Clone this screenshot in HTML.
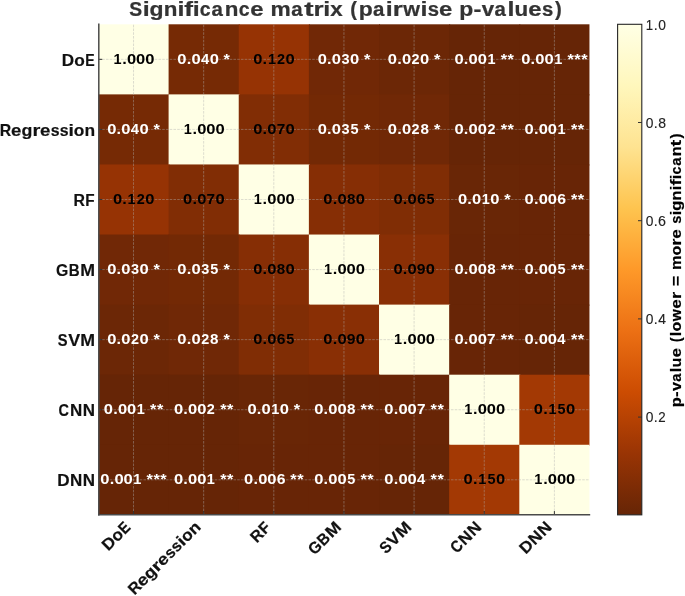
<!DOCTYPE html><html><head><meta charset="utf-8"><style>html,body{margin:0;padding:0;background:#fff;}svg{display:block;}text{font-family:"Liberation Sans",sans-serif;}</style></head><body><svg style="will-change:transform" width="685" height="596" viewBox="0 0 685 596">
<rect width="100%" height="100%" fill="#fff"/>
<rect x="98.450" y="24.300" width="71.143" height="71.079" fill="#ffffe5"/>
<rect x="168.593" y="24.300" width="71.143" height="71.079" fill="#762a05"/>
<rect x="238.736" y="24.300" width="71.143" height="71.079" fill="#963304"/>
<rect x="308.879" y="24.300" width="71.143" height="71.079" fill="#712806"/>
<rect x="379.021" y="24.300" width="71.143" height="71.079" fill="#6c2706"/>
<rect x="449.164" y="24.300" width="71.143" height="71.079" fill="#662506"/>
<rect x="519.307" y="24.300" width="70.143" height="71.079" fill="#662506"/>
<rect x="98.450" y="94.379" width="71.143" height="71.079" fill="#762a05"/>
<rect x="168.593" y="94.379" width="71.143" height="71.079" fill="#ffffe5"/>
<rect x="238.736" y="94.379" width="71.143" height="71.079" fill="#812d05"/>
<rect x="308.879" y="94.379" width="71.143" height="71.079" fill="#732905"/>
<rect x="379.021" y="94.379" width="71.143" height="71.079" fill="#702806"/>
<rect x="449.164" y="94.379" width="71.143" height="71.079" fill="#662506"/>
<rect x="519.307" y="94.379" width="70.143" height="71.079" fill="#662506"/>
<rect x="98.450" y="164.457" width="71.143" height="71.079" fill="#963304"/>
<rect x="168.593" y="164.457" width="71.143" height="71.079" fill="#812d05"/>
<rect x="238.736" y="164.457" width="71.143" height="71.079" fill="#ffffe5"/>
<rect x="308.879" y="164.457" width="71.143" height="71.079" fill="#862e05"/>
<rect x="379.021" y="164.457" width="71.143" height="71.079" fill="#802d05"/>
<rect x="449.164" y="164.457" width="71.143" height="71.079" fill="#692606"/>
<rect x="519.307" y="164.457" width="70.143" height="71.079" fill="#682506"/>
<rect x="98.450" y="234.536" width="71.143" height="71.079" fill="#712806"/>
<rect x="168.593" y="234.536" width="71.143" height="71.079" fill="#732905"/>
<rect x="238.736" y="234.536" width="71.143" height="71.079" fill="#862e05"/>
<rect x="308.879" y="234.536" width="71.143" height="71.079" fill="#ffffe5"/>
<rect x="379.021" y="234.536" width="71.143" height="71.079" fill="#892f05"/>
<rect x="449.164" y="234.536" width="71.143" height="71.079" fill="#682506"/>
<rect x="519.307" y="234.536" width="70.143" height="71.079" fill="#682506"/>
<rect x="98.450" y="304.614" width="71.143" height="71.079" fill="#6c2706"/>
<rect x="168.593" y="304.614" width="71.143" height="71.079" fill="#702806"/>
<rect x="238.736" y="304.614" width="71.143" height="71.079" fill="#802d05"/>
<rect x="308.879" y="304.614" width="71.143" height="71.079" fill="#892f05"/>
<rect x="379.021" y="304.614" width="71.143" height="71.079" fill="#ffffe5"/>
<rect x="449.164" y="304.614" width="71.143" height="71.079" fill="#682506"/>
<rect x="519.307" y="304.614" width="70.143" height="71.079" fill="#662506"/>
<rect x="98.450" y="374.693" width="71.143" height="71.079" fill="#662506"/>
<rect x="168.593" y="374.693" width="71.143" height="71.079" fill="#662506"/>
<rect x="238.736" y="374.693" width="71.143" height="71.079" fill="#692606"/>
<rect x="308.879" y="374.693" width="71.143" height="71.079" fill="#682506"/>
<rect x="379.021" y="374.693" width="71.143" height="71.079" fill="#682506"/>
<rect x="449.164" y="374.693" width="71.143" height="71.079" fill="#ffffe5"/>
<rect x="519.307" y="374.693" width="70.143" height="71.079" fill="#a33904"/>
<rect x="98.450" y="444.771" width="71.143" height="70.079" fill="#662506"/>
<rect x="168.593" y="444.771" width="71.143" height="70.079" fill="#662506"/>
<rect x="238.736" y="444.771" width="71.143" height="70.079" fill="#682506"/>
<rect x="308.879" y="444.771" width="71.143" height="70.079" fill="#682506"/>
<rect x="379.021" y="444.771" width="71.143" height="70.079" fill="#662506"/>
<rect x="449.164" y="444.771" width="71.143" height="70.079" fill="#a33904"/>
<rect x="519.307" y="444.771" width="70.143" height="70.079" fill="#ffffe5"/>
<line x1="133.521" y1="514.850" x2="133.521" y2="24.300" stroke="#b0b0b0" stroke-opacity="0.6" stroke-width="0.72" stroke-dasharray="2.6 1.15"/>
<line x1="203.664" y1="514.850" x2="203.664" y2="24.300" stroke="#b0b0b0" stroke-opacity="0.6" stroke-width="0.72" stroke-dasharray="2.6 1.15"/>
<line x1="273.807" y1="514.850" x2="273.807" y2="24.300" stroke="#b0b0b0" stroke-opacity="0.6" stroke-width="0.72" stroke-dasharray="2.6 1.15"/>
<line x1="343.950" y1="514.850" x2="343.950" y2="24.300" stroke="#b0b0b0" stroke-opacity="0.6" stroke-width="0.72" stroke-dasharray="2.6 1.15"/>
<line x1="414.093" y1="514.850" x2="414.093" y2="24.300" stroke="#b0b0b0" stroke-opacity="0.6" stroke-width="0.72" stroke-dasharray="2.6 1.15"/>
<line x1="484.236" y1="514.850" x2="484.236" y2="24.300" stroke="#b0b0b0" stroke-opacity="0.6" stroke-width="0.72" stroke-dasharray="2.6 1.15"/>
<line x1="554.379" y1="514.850" x2="554.379" y2="24.300" stroke="#b0b0b0" stroke-opacity="0.6" stroke-width="0.72" stroke-dasharray="2.6 1.15"/>
<line x1="98.450" y1="59.339" x2="589.450" y2="59.339" stroke="#b0b0b0" stroke-opacity="0.6" stroke-width="0.72" stroke-dasharray="2.6 1.15"/>
<line x1="98.450" y1="129.418" x2="589.450" y2="129.418" stroke="#b0b0b0" stroke-opacity="0.6" stroke-width="0.72" stroke-dasharray="2.6 1.15"/>
<line x1="98.450" y1="199.496" x2="589.450" y2="199.496" stroke="#b0b0b0" stroke-opacity="0.6" stroke-width="0.72" stroke-dasharray="2.6 1.15"/>
<line x1="98.450" y1="269.575" x2="589.450" y2="269.575" stroke="#b0b0b0" stroke-opacity="0.6" stroke-width="0.72" stroke-dasharray="2.6 1.15"/>
<line x1="98.450" y1="339.654" x2="589.450" y2="339.654" stroke="#b0b0b0" stroke-opacity="0.6" stroke-width="0.72" stroke-dasharray="2.6 1.15"/>
<line x1="98.450" y1="409.732" x2="589.450" y2="409.732" stroke="#b0b0b0" stroke-opacity="0.6" stroke-width="0.72" stroke-dasharray="2.6 1.15"/>
<line x1="98.450" y1="479.811" x2="589.450" y2="479.811" stroke="#b0b0b0" stroke-opacity="0.6" stroke-width="0.72" stroke-dasharray="2.6 1.15"/>
<line x1="98.450" y1="59.339" x2="102.250" y2="59.339" stroke="#333" stroke-width="1.0"/>
<line x1="98.450" y1="129.418" x2="102.250" y2="129.418" stroke="#333" stroke-width="1.0"/>
<line x1="98.450" y1="199.496" x2="102.250" y2="199.496" stroke="#333" stroke-width="1.0"/>
<line x1="98.450" y1="269.575" x2="102.250" y2="269.575" stroke="#333" stroke-width="1.0"/>
<line x1="98.450" y1="339.654" x2="102.250" y2="339.654" stroke="#333" stroke-width="1.0"/>
<line x1="98.450" y1="409.732" x2="102.250" y2="409.732" stroke="#333" stroke-width="1.0"/>
<line x1="98.450" y1="479.811" x2="102.250" y2="479.811" stroke="#333" stroke-width="1.0"/>
<line x1="133.521" y1="514.850" x2="133.521" y2="511.050" stroke="#333" stroke-width="1.0"/>
<line x1="203.664" y1="514.850" x2="203.664" y2="511.050" stroke="#333" stroke-width="1.0"/>
<line x1="273.807" y1="514.850" x2="273.807" y2="511.050" stroke="#333" stroke-width="1.0"/>
<line x1="343.950" y1="514.850" x2="343.950" y2="511.050" stroke="#333" stroke-width="1.0"/>
<line x1="414.093" y1="514.850" x2="414.093" y2="511.050" stroke="#333" stroke-width="1.0"/>
<line x1="484.236" y1="514.850" x2="484.236" y2="511.050" stroke="#333" stroke-width="1.0"/>
<line x1="554.379" y1="514.850" x2="554.379" y2="511.050" stroke="#333" stroke-width="1.0"/>
<line x1="98.800" y1="23.550" x2="98.800" y2="515.600" stroke="#4a4a4a" stroke-width="1.5"/>
<line x1="98.050" y1="514.850" x2="590.200" y2="514.850" stroke="#4a4a4a" stroke-width="1.5"/>
<defs><linearGradient id="cbg" x1="0" y1="1" x2="0" y2="0"><stop offset="0.0000" stop-color="#662506"/><stop offset="0.1250" stop-color="#993404"/><stop offset="0.2500" stop-color="#cc4c02"/><stop offset="0.3750" stop-color="#ec7014"/><stop offset="0.5000" stop-color="#fe9929"/><stop offset="0.6250" stop-color="#fec44f"/><stop offset="0.7500" stop-color="#fee391"/><stop offset="0.8750" stop-color="#fff7bc"/><stop offset="1.0000" stop-color="#ffffe5"/></linearGradient></defs>
<rect x="617.600" y="24.300" width="24.200" height="490.550" fill="url(#cbg)"/>
<line x1="641.800" y1="417.094" x2="638.000" y2="417.094" stroke="#333" stroke-width="1.0"/>
<line x1="641.800" y1="318.895" x2="638.000" y2="318.895" stroke="#333" stroke-width="1.0"/>
<line x1="641.800" y1="220.697" x2="638.000" y2="220.697" stroke="#333" stroke-width="1.0"/>
<line x1="641.800" y1="122.498" x2="638.000" y2="122.498" stroke="#333" stroke-width="1.0"/>
<rect x="617.600" y="24.300" width="24.200" height="490.550" fill="none" stroke="#262626" stroke-width="1.1"/>
<g font-family="Liberation Sans" style="font-kerning:none">
<text transform="translate(108.113 551.755) rotate(-45.0)" x="0.260" y="0" font-size="16.214" textLength="12.362" lengthAdjust="spacingAndGlyphs" fill="#111111" font-weight="bold" stroke="#111111" stroke-width="0.21">D</text>
<text transform="translate(108.113 551.755) rotate(-45.0)" x="12.685" y="0" font-size="16.214" textLength="10.547" lengthAdjust="spacingAndGlyphs" fill="#111111" font-weight="bold" stroke="#111111" stroke-width="0.21">o</text>
<text transform="translate(108.113 551.755) rotate(-45.0)" x="23.674" y="0" font-size="16.214" textLength="9.425" lengthAdjust="spacingAndGlyphs" fill="#111111" font-weight="bold" stroke="#111111" stroke-width="0.21">E</text>
<text transform="translate(134.164 595.762) rotate(-45.0)" x="0.343" y="0" font-size="16.044" textLength="11.459" lengthAdjust="spacingAndGlyphs" fill="#111111" font-weight="bold" stroke="#111111" stroke-width="0.21">R</text>
<text transform="translate(134.164 595.762) rotate(-45.0)" x="11.714" y="0" font-size="16.044" textLength="10.343" lengthAdjust="spacingAndGlyphs" fill="#111111" font-weight="bold" stroke="#111111" stroke-width="0.21">e</text>
<text transform="translate(134.164 595.762) rotate(-45.0)" x="22.116" y="0" font-size="16.044" textLength="10.908" lengthAdjust="spacingAndGlyphs" fill="#111111" font-weight="bold" stroke="#111111" stroke-width="0.21">g</text>
<text transform="translate(134.164 595.762) rotate(-45.0)" x="33.070" y="0" font-size="16.044" textLength="7.852" lengthAdjust="spacingAndGlyphs" fill="#111111" font-weight="bold" stroke="#111111" stroke-width="0.21">r</text>
<text transform="translate(134.164 595.762) rotate(-45.0)" x="40.592" y="0" font-size="16.044" textLength="10.343" lengthAdjust="spacingAndGlyphs" fill="#111111" font-weight="bold" stroke="#111111" stroke-width="0.21">e</text>
<text transform="translate(134.164 595.762) rotate(-45.0)" x="51.275" y="0" font-size="16.044" textLength="8.796" lengthAdjust="spacingAndGlyphs" fill="#111111" font-weight="bold" stroke="#111111" stroke-width="0.21">s</text>
<text transform="translate(134.164 595.762) rotate(-45.0)" x="60.383" y="0" font-size="16.044" textLength="8.796" lengthAdjust="spacingAndGlyphs" fill="#111111" font-weight="bold" stroke="#111111" stroke-width="0.21">s</text>
<text transform="translate(134.164 595.762) rotate(-45.0)" x="69.179" y="0" font-size="16.044" textLength="5.416" lengthAdjust="spacingAndGlyphs" fill="#111111" font-weight="bold" stroke="#111111" stroke-width="0.21">i</text>
<text transform="translate(134.164 595.762) rotate(-45.0)" x="74.483" y="0" font-size="16.044" textLength="10.547" lengthAdjust="spacingAndGlyphs" fill="#111111" font-weight="bold" stroke="#111111" stroke-width="0.21">o</text>
<text transform="translate(134.164 595.762) rotate(-45.0)" x="85.149" y="0" font-size="16.044" textLength="10.642" lengthAdjust="spacingAndGlyphs" fill="#111111" font-weight="bold" stroke="#111111" stroke-width="0.21">n</text>
<text transform="translate(256.484 543.670) rotate(-45.0)" x="0.343" y="0" font-size="16.214" textLength="11.459" lengthAdjust="spacingAndGlyphs" fill="#111111" font-weight="bold" stroke="#111111" stroke-width="0.21">R</text>
<text transform="translate(256.484 543.670) rotate(-45.0)" x="12.164" y="0" font-size="16.214" textLength="9.347" lengthAdjust="spacingAndGlyphs" fill="#111111" font-weight="bold" stroke="#111111" stroke-width="0.21">F</text>
<text transform="translate(314.454 555.843) rotate(-45.0)" x="0.114" y="0" font-size="16.265" textLength="12.299" lengthAdjust="spacingAndGlyphs" fill="#111111" font-weight="bold" stroke="#111111" stroke-width="0.21">G</text>
<text transform="translate(314.454 555.843) rotate(-45.0)" x="12.957" y="0" font-size="16.265" textLength="10.874" lengthAdjust="spacingAndGlyphs" fill="#111111" font-weight="bold" stroke="#111111" stroke-width="0.21">B</text>
<text transform="translate(314.454 555.843) rotate(-45.0)" x="24.441" y="0" font-size="16.265" textLength="14.785" lengthAdjust="spacingAndGlyphs" fill="#111111" font-weight="bold" stroke="#111111" stroke-width="0.21">M</text>
<text transform="translate(385.559 554.881) rotate(-45.0)" x="0.675" y="0" font-size="16.265" textLength="9.799" lengthAdjust="spacingAndGlyphs" fill="#111111" font-weight="bold" stroke="#111111" stroke-width="0.21">S</text>
<text transform="translate(385.559 554.881) rotate(-45.0)" x="10.973" y="0" font-size="16.265" textLength="11.938" lengthAdjust="spacingAndGlyphs" fill="#111111" font-weight="bold" stroke="#111111" stroke-width="0.21">V</text>
<text transform="translate(385.559 554.881) rotate(-45.0)" x="23.081" y="0" font-size="16.265" textLength="14.785" lengthAdjust="spacingAndGlyphs" fill="#111111" font-weight="bold" stroke="#111111" stroke-width="0.21">M</text>
<text transform="translate(456.584 553.998) rotate(-45.0)" x="0.167" y="0" font-size="16.265" textLength="10.481" lengthAdjust="spacingAndGlyphs" fill="#111111" font-weight="bold" stroke="#111111" stroke-width="0.21">C</text>
<text transform="translate(456.584 553.998) rotate(-45.0)" x="11.497" y="0" font-size="16.265" textLength="12.280" lengthAdjust="spacingAndGlyphs" fill="#111111" font-weight="bold" stroke="#111111" stroke-width="0.21">N</text>
<text transform="translate(456.584 553.998) rotate(-45.0)" x="24.304" y="0" font-size="16.265" textLength="12.280" lengthAdjust="spacingAndGlyphs" fill="#111111" font-weight="bold" stroke="#111111" stroke-width="0.21">N</text>
<text transform="translate(525.686 555.040) rotate(-45.0)" x="0.260" y="0" font-size="16.214" textLength="12.362" lengthAdjust="spacingAndGlyphs" fill="#111111" font-weight="bold" stroke="#111111" stroke-width="0.21">D</text>
<text transform="translate(525.686 555.040) rotate(-45.0)" x="12.969" y="0" font-size="16.214" textLength="12.280" lengthAdjust="spacingAndGlyphs" fill="#111111" font-weight="bold" stroke="#111111" stroke-width="0.21">N</text>
<text transform="translate(525.686 555.040) rotate(-45.0)" x="25.775" y="0" font-size="16.214" textLength="12.280" lengthAdjust="spacingAndGlyphs" fill="#111111" font-weight="bold" stroke="#111111" stroke-width="0.21">N</text>
<text transform="translate(95.274 66.256)" x="-33.408" y="0" font-size="16.214" textLength="12.362" lengthAdjust="spacingAndGlyphs" fill="#111111" font-weight="bold" stroke="#111111" stroke-width="0.17">D</text>
<text transform="translate(95.274 66.256)" x="-20.982" y="0" font-size="16.214" textLength="10.547" lengthAdjust="spacingAndGlyphs" fill="#111111" font-weight="bold" stroke="#111111" stroke-width="0.17">o</text>
<text transform="translate(95.274 66.256)" x="-9.993" y="0" font-size="16.214" textLength="9.425" lengthAdjust="spacingAndGlyphs" fill="#111111" font-weight="bold" stroke="#111111" stroke-width="0.17">E</text>
<text transform="translate(95.274 136.342)" x="-95.563" y="0" font-size="16.044" textLength="11.459" lengthAdjust="spacingAndGlyphs" fill="#111111" font-weight="bold" stroke="#111111" stroke-width="0.17">R</text>
<text transform="translate(95.274 136.342)" x="-84.193" y="0" font-size="16.044" textLength="10.343" lengthAdjust="spacingAndGlyphs" fill="#111111" font-weight="bold" stroke="#111111" stroke-width="0.17">e</text>
<text transform="translate(95.274 136.342)" x="-73.791" y="0" font-size="16.044" textLength="10.908" lengthAdjust="spacingAndGlyphs" fill="#111111" font-weight="bold" stroke="#111111" stroke-width="0.17">g</text>
<text transform="translate(95.274 136.342)" x="-62.837" y="0" font-size="16.044" textLength="7.852" lengthAdjust="spacingAndGlyphs" fill="#111111" font-weight="bold" stroke="#111111" stroke-width="0.17">r</text>
<text transform="translate(95.274 136.342)" x="-55.315" y="0" font-size="16.044" textLength="10.343" lengthAdjust="spacingAndGlyphs" fill="#111111" font-weight="bold" stroke="#111111" stroke-width="0.17">e</text>
<text transform="translate(95.274 136.342)" x="-44.631" y="0" font-size="16.044" textLength="8.796" lengthAdjust="spacingAndGlyphs" fill="#111111" font-weight="bold" stroke="#111111" stroke-width="0.17">s</text>
<text transform="translate(95.274 136.342)" x="-35.523" y="0" font-size="16.044" textLength="8.796" lengthAdjust="spacingAndGlyphs" fill="#111111" font-weight="bold" stroke="#111111" stroke-width="0.17">s</text>
<text transform="translate(95.274 136.342)" x="-26.728" y="0" font-size="16.044" textLength="5.416" lengthAdjust="spacingAndGlyphs" fill="#111111" font-weight="bold" stroke="#111111" stroke-width="0.17">i</text>
<text transform="translate(95.274 136.342)" x="-21.423" y="0" font-size="16.044" textLength="10.547" lengthAdjust="spacingAndGlyphs" fill="#111111" font-weight="bold" stroke="#111111" stroke-width="0.17">o</text>
<text transform="translate(95.274 136.342)" x="-10.757" y="0" font-size="16.044" textLength="10.642" lengthAdjust="spacingAndGlyphs" fill="#111111" font-weight="bold" stroke="#111111" stroke-width="0.17">n</text>
<text transform="translate(95.274 206.428)" x="-21.892" y="0" font-size="16.214" textLength="11.459" lengthAdjust="spacingAndGlyphs" fill="#111111" font-weight="bold" stroke="#111111" stroke-width="0.17">R</text>
<text transform="translate(95.274 206.428)" x="-10.072" y="0" font-size="16.214" textLength="9.347" lengthAdjust="spacingAndGlyphs" fill="#111111" font-weight="bold" stroke="#111111" stroke-width="0.17">F</text>
<text transform="translate(95.274 275.514)" x="-39.337" y="0" font-size="16.265" textLength="12.299" lengthAdjust="spacingAndGlyphs" fill="#111111" font-weight="bold" stroke="#111111" stroke-width="0.17">G</text>
<text transform="translate(95.274 275.514)" x="-26.493" y="0" font-size="16.265" textLength="10.874" lengthAdjust="spacingAndGlyphs" fill="#111111" font-weight="bold" stroke="#111111" stroke-width="0.17">B</text>
<text transform="translate(95.274 275.514)" x="-15.010" y="0" font-size="16.265" textLength="14.785" lengthAdjust="spacingAndGlyphs" fill="#111111" font-weight="bold" stroke="#111111" stroke-width="0.17">M</text>
<text transform="translate(95.274 345.599)" x="-37.416" y="0" font-size="16.265" textLength="9.799" lengthAdjust="spacingAndGlyphs" fill="#111111" font-weight="bold" stroke="#111111" stroke-width="0.17">S</text>
<text transform="translate(95.274 345.599)" x="-27.118" y="0" font-size="16.265" textLength="11.938" lengthAdjust="spacingAndGlyphs" fill="#111111" font-weight="bold" stroke="#111111" stroke-width="0.17">V</text>
<text transform="translate(95.274 345.599)" x="-15.010" y="0" font-size="16.265" textLength="14.785" lengthAdjust="spacingAndGlyphs" fill="#111111" font-weight="bold" stroke="#111111" stroke-width="0.17">M</text>
<text transform="translate(95.274 415.685)" x="-36.676" y="0" font-size="16.265" textLength="10.481" lengthAdjust="spacingAndGlyphs" fill="#111111" font-weight="bold" stroke="#111111" stroke-width="0.17">C</text>
<text transform="translate(95.274 415.685)" x="-25.346" y="0" font-size="16.265" textLength="12.280" lengthAdjust="spacingAndGlyphs" fill="#111111" font-weight="bold" stroke="#111111" stroke-width="0.17">N</text>
<text transform="translate(95.274 415.685)" x="-12.539" y="0" font-size="16.265" textLength="12.280" lengthAdjust="spacingAndGlyphs" fill="#111111" font-weight="bold" stroke="#111111" stroke-width="0.17">N</text>
<text transform="translate(95.274 485.771)" x="-38.055" y="0" font-size="16.214" textLength="12.362" lengthAdjust="spacingAndGlyphs" fill="#111111" font-weight="bold" stroke="#111111" stroke-width="0.17">D</text>
<text transform="translate(95.274 485.771)" x="-25.346" y="0" font-size="16.214" textLength="12.280" lengthAdjust="spacingAndGlyphs" fill="#111111" font-weight="bold" stroke="#111111" stroke-width="0.17">N</text>
<text transform="translate(95.274 485.771)" x="-12.539" y="0" font-size="16.214" textLength="12.280" lengthAdjust="spacingAndGlyphs" fill="#111111" font-weight="bold" stroke="#111111" stroke-width="0.17">N</text>
<text transform="translate(133.671 63.762)" x="-20.177" y="0" font-size="13.941" textLength="8.060" lengthAdjust="spacingAndGlyphs" fill="#000000" font-weight="bold">1</text>
<text transform="translate(133.671 63.762)" x="-11.388" y="0" font-size="13.941" textLength="4.539" lengthAdjust="spacingAndGlyphs" fill="#000000" font-weight="bold">.</text>
<text transform="translate(133.671 63.762)" x="-6.662" y="0" font-size="13.941" textLength="9.204" lengthAdjust="spacingAndGlyphs" fill="#000000" font-weight="bold">0</text>
<text transform="translate(133.671 63.762)" x="2.464" y="0" font-size="13.941" textLength="9.204" lengthAdjust="spacingAndGlyphs" fill="#000000" font-weight="bold">0</text>
<text transform="translate(133.671 63.762)" x="11.590" y="0" font-size="13.941" textLength="9.204" lengthAdjust="spacingAndGlyphs" fill="#000000" font-weight="bold">0</text>
<text transform="translate(203.814 63.762)" x="-26.483" y="0" font-size="13.941" textLength="9.204" lengthAdjust="spacingAndGlyphs" fill="#ffffff" font-weight="bold">0</text>
<text transform="translate(203.814 63.762)" x="-17.100" y="0" font-size="13.941" textLength="4.539" lengthAdjust="spacingAndGlyphs" fill="#ffffff" font-weight="bold">.</text>
<text transform="translate(203.814 63.762)" x="-12.374" y="0" font-size="13.941" textLength="9.204" lengthAdjust="spacingAndGlyphs" fill="#ffffff" font-weight="bold">0</text>
<text transform="translate(203.814 63.762)" x="-2.856" y="0" font-size="13.941" textLength="8.239" lengthAdjust="spacingAndGlyphs" fill="#ffffff" font-weight="bold">4</text>
<text transform="translate(203.814 63.762)" x="5.878" y="0" font-size="13.941" textLength="9.204" lengthAdjust="spacingAndGlyphs" fill="#ffffff" font-weight="bold">0</text>
<text transform="translate(203.814 63.762)" x="19.812" y="0" font-size="13.941" textLength="6.398" lengthAdjust="spacingAndGlyphs" fill="#ffffff" font-weight="bold">*</text>
<text transform="translate(273.957 63.762)" x="-20.770" y="0" font-size="13.941" textLength="9.204" lengthAdjust="spacingAndGlyphs" fill="#000000" font-weight="bold">0</text>
<text transform="translate(273.957 63.762)" x="-11.388" y="0" font-size="13.941" textLength="4.539" lengthAdjust="spacingAndGlyphs" fill="#000000" font-weight="bold">.</text>
<text transform="translate(273.957 63.762)" x="-6.068" y="0" font-size="13.941" textLength="8.060" lengthAdjust="spacingAndGlyphs" fill="#000000" font-weight="bold">1</text>
<text transform="translate(273.957 63.762)" x="3.028" y="0" font-size="13.941" textLength="8.027" lengthAdjust="spacingAndGlyphs" fill="#000000" font-weight="bold">2</text>
<text transform="translate(273.957 63.762)" x="11.590" y="0" font-size="13.941" textLength="9.204" lengthAdjust="spacingAndGlyphs" fill="#000000" font-weight="bold">0</text>
<text transform="translate(344.100 63.762)" x="-26.483" y="0" font-size="13.941" textLength="9.204" lengthAdjust="spacingAndGlyphs" fill="#ffffff" font-weight="bold">0</text>
<text transform="translate(344.100 63.762)" x="-17.100" y="0" font-size="13.941" textLength="4.539" lengthAdjust="spacingAndGlyphs" fill="#ffffff" font-weight="bold">.</text>
<text transform="translate(344.100 63.762)" x="-12.374" y="0" font-size="13.941" textLength="9.204" lengthAdjust="spacingAndGlyphs" fill="#ffffff" font-weight="bold">0</text>
<text transform="translate(344.100 63.762)" x="-2.677" y="0" font-size="13.941" textLength="8.061" lengthAdjust="spacingAndGlyphs" fill="#ffffff" font-weight="bold">3</text>
<text transform="translate(344.100 63.762)" x="5.878" y="0" font-size="13.941" textLength="9.204" lengthAdjust="spacingAndGlyphs" fill="#ffffff" font-weight="bold">0</text>
<text transform="translate(344.100 63.762)" x="19.812" y="0" font-size="13.941" textLength="6.398" lengthAdjust="spacingAndGlyphs" fill="#ffffff" font-weight="bold">*</text>
<text transform="translate(414.243 63.762)" x="-26.483" y="0" font-size="13.941" textLength="9.204" lengthAdjust="spacingAndGlyphs" fill="#ffffff" font-weight="bold">0</text>
<text transform="translate(414.243 63.762)" x="-17.100" y="0" font-size="13.941" textLength="4.539" lengthAdjust="spacingAndGlyphs" fill="#ffffff" font-weight="bold">.</text>
<text transform="translate(414.243 63.762)" x="-12.374" y="0" font-size="13.941" textLength="9.204" lengthAdjust="spacingAndGlyphs" fill="#ffffff" font-weight="bold">0</text>
<text transform="translate(414.243 63.762)" x="-2.684" y="0" font-size="13.941" textLength="8.027" lengthAdjust="spacingAndGlyphs" fill="#ffffff" font-weight="bold">2</text>
<text transform="translate(414.243 63.762)" x="5.878" y="0" font-size="13.941" textLength="9.204" lengthAdjust="spacingAndGlyphs" fill="#ffffff" font-weight="bold">0</text>
<text transform="translate(414.243 63.762)" x="19.812" y="0" font-size="13.941" textLength="6.398" lengthAdjust="spacingAndGlyphs" fill="#ffffff" font-weight="bold">*</text>
<text transform="translate(484.386 63.762)" x="-29.913" y="0" font-size="13.941" textLength="9.204" lengthAdjust="spacingAndGlyphs" fill="#ffffff" font-weight="bold">0</text>
<text transform="translate(484.386 63.762)" x="-20.530" y="0" font-size="13.941" textLength="4.539" lengthAdjust="spacingAndGlyphs" fill="#ffffff" font-weight="bold">.</text>
<text transform="translate(484.386 63.762)" x="-15.804" y="0" font-size="13.941" textLength="9.204" lengthAdjust="spacingAndGlyphs" fill="#ffffff" font-weight="bold">0</text>
<text transform="translate(484.386 63.762)" x="-6.678" y="0" font-size="13.941" textLength="9.204" lengthAdjust="spacingAndGlyphs" fill="#ffffff" font-weight="bold">0</text>
<text transform="translate(484.386 63.762)" x="3.042" y="0" font-size="13.941" textLength="8.060" lengthAdjust="spacingAndGlyphs" fill="#ffffff" font-weight="bold">1</text>
<text transform="translate(484.386 63.762)" x="16.382" y="0" font-size="13.941" textLength="6.398" lengthAdjust="spacingAndGlyphs" fill="#ffffff" font-weight="bold">*</text>
<text transform="translate(484.386 63.762)" x="23.241" y="0" font-size="13.941" textLength="6.398" lengthAdjust="spacingAndGlyphs" fill="#ffffff" font-weight="bold">*</text>
<text transform="translate(554.529 63.762)" x="-33.342" y="0" font-size="13.941" textLength="9.204" lengthAdjust="spacingAndGlyphs" fill="#ffffff" font-weight="bold">0</text>
<text transform="translate(554.529 63.762)" x="-23.959" y="0" font-size="13.941" textLength="4.539" lengthAdjust="spacingAndGlyphs" fill="#ffffff" font-weight="bold">.</text>
<text transform="translate(554.529 63.762)" x="-19.233" y="0" font-size="13.941" textLength="9.204" lengthAdjust="spacingAndGlyphs" fill="#ffffff" font-weight="bold">0</text>
<text transform="translate(554.529 63.762)" x="-10.107" y="0" font-size="13.941" textLength="9.204" lengthAdjust="spacingAndGlyphs" fill="#ffffff" font-weight="bold">0</text>
<text transform="translate(554.529 63.762)" x="-0.388" y="0" font-size="13.941" textLength="8.060" lengthAdjust="spacingAndGlyphs" fill="#ffffff" font-weight="bold">1</text>
<text transform="translate(554.529 63.762)" x="12.953" y="0" font-size="13.941" textLength="6.398" lengthAdjust="spacingAndGlyphs" fill="#ffffff" font-weight="bold">*</text>
<text transform="translate(554.529 63.762)" x="19.812" y="0" font-size="13.941" textLength="6.398" lengthAdjust="spacingAndGlyphs" fill="#ffffff" font-weight="bold">*</text>
<text transform="translate(554.529 63.762)" x="26.671" y="0" font-size="13.941" textLength="6.398" lengthAdjust="spacingAndGlyphs" fill="#ffffff" font-weight="bold">*</text>
<text transform="translate(133.671 133.848)" x="-26.483" y="0" font-size="13.941" textLength="9.204" lengthAdjust="spacingAndGlyphs" fill="#ffffff" font-weight="bold">0</text>
<text transform="translate(133.671 133.848)" x="-17.100" y="0" font-size="13.941" textLength="4.539" lengthAdjust="spacingAndGlyphs" fill="#ffffff" font-weight="bold">.</text>
<text transform="translate(133.671 133.848)" x="-12.374" y="0" font-size="13.941" textLength="9.204" lengthAdjust="spacingAndGlyphs" fill="#ffffff" font-weight="bold">0</text>
<text transform="translate(133.671 133.848)" x="-2.856" y="0" font-size="13.941" textLength="8.239" lengthAdjust="spacingAndGlyphs" fill="#ffffff" font-weight="bold">4</text>
<text transform="translate(133.671 133.848)" x="5.878" y="0" font-size="13.941" textLength="9.204" lengthAdjust="spacingAndGlyphs" fill="#ffffff" font-weight="bold">0</text>
<text transform="translate(133.671 133.848)" x="19.812" y="0" font-size="13.941" textLength="6.398" lengthAdjust="spacingAndGlyphs" fill="#ffffff" font-weight="bold">*</text>
<text transform="translate(203.814 133.848)" x="-20.177" y="0" font-size="13.941" textLength="8.060" lengthAdjust="spacingAndGlyphs" fill="#000000" font-weight="bold">1</text>
<text transform="translate(203.814 133.848)" x="-11.388" y="0" font-size="13.941" textLength="4.539" lengthAdjust="spacingAndGlyphs" fill="#000000" font-weight="bold">.</text>
<text transform="translate(203.814 133.848)" x="-6.662" y="0" font-size="13.941" textLength="9.204" lengthAdjust="spacingAndGlyphs" fill="#000000" font-weight="bold">0</text>
<text transform="translate(203.814 133.848)" x="2.464" y="0" font-size="13.941" textLength="9.204" lengthAdjust="spacingAndGlyphs" fill="#000000" font-weight="bold">0</text>
<text transform="translate(203.814 133.848)" x="11.590" y="0" font-size="13.941" textLength="9.204" lengthAdjust="spacingAndGlyphs" fill="#000000" font-weight="bold">0</text>
<text transform="translate(273.957 133.848)" x="-20.770" y="0" font-size="13.941" textLength="9.204" lengthAdjust="spacingAndGlyphs" fill="#000000" font-weight="bold">0</text>
<text transform="translate(273.957 133.848)" x="-11.388" y="0" font-size="13.941" textLength="4.539" lengthAdjust="spacingAndGlyphs" fill="#000000" font-weight="bold">.</text>
<text transform="translate(273.957 133.848)" x="-6.662" y="0" font-size="13.941" textLength="9.204" lengthAdjust="spacingAndGlyphs" fill="#000000" font-weight="bold">0</text>
<text transform="translate(273.957 133.848)" x="2.709" y="0" font-size="13.941" textLength="8.539" lengthAdjust="spacingAndGlyphs" fill="#000000" font-weight="bold">7</text>
<text transform="translate(273.957 133.848)" x="11.590" y="0" font-size="13.941" textLength="9.204" lengthAdjust="spacingAndGlyphs" fill="#000000" font-weight="bold">0</text>
<text transform="translate(344.100 133.848)" x="-26.483" y="0" font-size="13.941" textLength="9.204" lengthAdjust="spacingAndGlyphs" fill="#ffffff" font-weight="bold">0</text>
<text transform="translate(344.100 133.848)" x="-17.100" y="0" font-size="13.941" textLength="4.539" lengthAdjust="spacingAndGlyphs" fill="#ffffff" font-weight="bold">.</text>
<text transform="translate(344.100 133.848)" x="-12.374" y="0" font-size="13.941" textLength="9.204" lengthAdjust="spacingAndGlyphs" fill="#ffffff" font-weight="bold">0</text>
<text transform="translate(344.100 133.848)" x="-2.677" y="0" font-size="13.941" textLength="8.061" lengthAdjust="spacingAndGlyphs" fill="#ffffff" font-weight="bold">3</text>
<text transform="translate(344.100 133.848)" x="6.472" y="0" font-size="13.941" textLength="8.046" lengthAdjust="spacingAndGlyphs" fill="#ffffff" font-weight="bold">5</text>
<text transform="translate(344.100 133.848)" x="19.812" y="0" font-size="13.941" textLength="6.398" lengthAdjust="spacingAndGlyphs" fill="#ffffff" font-weight="bold">*</text>
<text transform="translate(414.243 133.848)" x="-26.483" y="0" font-size="13.941" textLength="9.204" lengthAdjust="spacingAndGlyphs" fill="#ffffff" font-weight="bold">0</text>
<text transform="translate(414.243 133.848)" x="-17.100" y="0" font-size="13.941" textLength="4.539" lengthAdjust="spacingAndGlyphs" fill="#ffffff" font-weight="bold">.</text>
<text transform="translate(414.243 133.848)" x="-12.374" y="0" font-size="13.941" textLength="9.204" lengthAdjust="spacingAndGlyphs" fill="#ffffff" font-weight="bold">0</text>
<text transform="translate(414.243 133.848)" x="-2.684" y="0" font-size="13.941" textLength="8.027" lengthAdjust="spacingAndGlyphs" fill="#ffffff" font-weight="bold">2</text>
<text transform="translate(414.243 133.848)" x="6.222" y="0" font-size="13.941" textLength="8.463" lengthAdjust="spacingAndGlyphs" fill="#ffffff" font-weight="bold">8</text>
<text transform="translate(414.243 133.848)" x="19.812" y="0" font-size="13.941" textLength="6.398" lengthAdjust="spacingAndGlyphs" fill="#ffffff" font-weight="bold">*</text>
<text transform="translate(484.386 133.848)" x="-29.913" y="0" font-size="13.941" textLength="9.204" lengthAdjust="spacingAndGlyphs" fill="#ffffff" font-weight="bold">0</text>
<text transform="translate(484.386 133.848)" x="-20.530" y="0" font-size="13.941" textLength="4.539" lengthAdjust="spacingAndGlyphs" fill="#ffffff" font-weight="bold">.</text>
<text transform="translate(484.386 133.848)" x="-15.804" y="0" font-size="13.941" textLength="9.204" lengthAdjust="spacingAndGlyphs" fill="#ffffff" font-weight="bold">0</text>
<text transform="translate(484.386 133.848)" x="-6.678" y="0" font-size="13.941" textLength="9.204" lengthAdjust="spacingAndGlyphs" fill="#ffffff" font-weight="bold">0</text>
<text transform="translate(484.386 133.848)" x="3.012" y="0" font-size="13.941" textLength="8.027" lengthAdjust="spacingAndGlyphs" fill="#ffffff" font-weight="bold">2</text>
<text transform="translate(484.386 133.848)" x="16.382" y="0" font-size="13.941" textLength="6.398" lengthAdjust="spacingAndGlyphs" fill="#ffffff" font-weight="bold">*</text>
<text transform="translate(484.386 133.848)" x="23.241" y="0" font-size="13.941" textLength="6.398" lengthAdjust="spacingAndGlyphs" fill="#ffffff" font-weight="bold">*</text>
<text transform="translate(554.529 133.848)" x="-29.913" y="0" font-size="13.941" textLength="9.204" lengthAdjust="spacingAndGlyphs" fill="#ffffff" font-weight="bold">0</text>
<text transform="translate(554.529 133.848)" x="-20.530" y="0" font-size="13.941" textLength="4.539" lengthAdjust="spacingAndGlyphs" fill="#ffffff" font-weight="bold">.</text>
<text transform="translate(554.529 133.848)" x="-15.804" y="0" font-size="13.941" textLength="9.204" lengthAdjust="spacingAndGlyphs" fill="#ffffff" font-weight="bold">0</text>
<text transform="translate(554.529 133.848)" x="-6.678" y="0" font-size="13.941" textLength="9.204" lengthAdjust="spacingAndGlyphs" fill="#ffffff" font-weight="bold">0</text>
<text transform="translate(554.529 133.848)" x="3.042" y="0" font-size="13.941" textLength="8.060" lengthAdjust="spacingAndGlyphs" fill="#ffffff" font-weight="bold">1</text>
<text transform="translate(554.529 133.848)" x="16.382" y="0" font-size="13.941" textLength="6.398" lengthAdjust="spacingAndGlyphs" fill="#ffffff" font-weight="bold">*</text>
<text transform="translate(554.529 133.848)" x="23.241" y="0" font-size="13.941" textLength="6.398" lengthAdjust="spacingAndGlyphs" fill="#ffffff" font-weight="bold">*</text>
<text transform="translate(133.671 203.933)" x="-20.770" y="0" font-size="13.941" textLength="9.204" lengthAdjust="spacingAndGlyphs" fill="#000000" font-weight="bold">0</text>
<text transform="translate(133.671 203.933)" x="-11.388" y="0" font-size="13.941" textLength="4.539" lengthAdjust="spacingAndGlyphs" fill="#000000" font-weight="bold">.</text>
<text transform="translate(133.671 203.933)" x="-6.068" y="0" font-size="13.941" textLength="8.060" lengthAdjust="spacingAndGlyphs" fill="#000000" font-weight="bold">1</text>
<text transform="translate(133.671 203.933)" x="3.028" y="0" font-size="13.941" textLength="8.027" lengthAdjust="spacingAndGlyphs" fill="#000000" font-weight="bold">2</text>
<text transform="translate(133.671 203.933)" x="11.590" y="0" font-size="13.941" textLength="9.204" lengthAdjust="spacingAndGlyphs" fill="#000000" font-weight="bold">0</text>
<text transform="translate(203.814 203.933)" x="-20.770" y="0" font-size="13.941" textLength="9.204" lengthAdjust="spacingAndGlyphs" fill="#000000" font-weight="bold">0</text>
<text transform="translate(203.814 203.933)" x="-11.388" y="0" font-size="13.941" textLength="4.539" lengthAdjust="spacingAndGlyphs" fill="#000000" font-weight="bold">.</text>
<text transform="translate(203.814 203.933)" x="-6.662" y="0" font-size="13.941" textLength="9.204" lengthAdjust="spacingAndGlyphs" fill="#000000" font-weight="bold">0</text>
<text transform="translate(203.814 203.933)" x="2.709" y="0" font-size="13.941" textLength="8.539" lengthAdjust="spacingAndGlyphs" fill="#000000" font-weight="bold">7</text>
<text transform="translate(203.814 203.933)" x="11.590" y="0" font-size="13.941" textLength="9.204" lengthAdjust="spacingAndGlyphs" fill="#000000" font-weight="bold">0</text>
<text transform="translate(273.957 203.933)" x="-20.177" y="0" font-size="13.941" textLength="8.060" lengthAdjust="spacingAndGlyphs" fill="#000000" font-weight="bold">1</text>
<text transform="translate(273.957 203.933)" x="-11.388" y="0" font-size="13.941" textLength="4.539" lengthAdjust="spacingAndGlyphs" fill="#000000" font-weight="bold">.</text>
<text transform="translate(273.957 203.933)" x="-6.662" y="0" font-size="13.941" textLength="9.204" lengthAdjust="spacingAndGlyphs" fill="#000000" font-weight="bold">0</text>
<text transform="translate(273.957 203.933)" x="2.464" y="0" font-size="13.941" textLength="9.204" lengthAdjust="spacingAndGlyphs" fill="#000000" font-weight="bold">0</text>
<text transform="translate(273.957 203.933)" x="11.590" y="0" font-size="13.941" textLength="9.204" lengthAdjust="spacingAndGlyphs" fill="#000000" font-weight="bold">0</text>
<text transform="translate(344.100 203.933)" x="-20.770" y="0" font-size="13.941" textLength="9.204" lengthAdjust="spacingAndGlyphs" fill="#000000" font-weight="bold">0</text>
<text transform="translate(344.100 203.933)" x="-11.388" y="0" font-size="13.941" textLength="4.539" lengthAdjust="spacingAndGlyphs" fill="#000000" font-weight="bold">.</text>
<text transform="translate(344.100 203.933)" x="-6.662" y="0" font-size="13.941" textLength="9.204" lengthAdjust="spacingAndGlyphs" fill="#000000" font-weight="bold">0</text>
<text transform="translate(344.100 203.933)" x="2.809" y="0" font-size="13.941" textLength="8.463" lengthAdjust="spacingAndGlyphs" fill="#000000" font-weight="bold">8</text>
<text transform="translate(344.100 203.933)" x="11.590" y="0" font-size="13.941" textLength="9.204" lengthAdjust="spacingAndGlyphs" fill="#000000" font-weight="bold">0</text>
<text transform="translate(414.243 203.933)" x="-20.770" y="0" font-size="13.941" textLength="9.204" lengthAdjust="spacingAndGlyphs" fill="#000000" font-weight="bold">0</text>
<text transform="translate(414.243 203.933)" x="-11.388" y="0" font-size="13.941" textLength="4.539" lengthAdjust="spacingAndGlyphs" fill="#000000" font-weight="bold">.</text>
<text transform="translate(414.243 203.933)" x="-6.662" y="0" font-size="13.941" textLength="9.204" lengthAdjust="spacingAndGlyphs" fill="#000000" font-weight="bold">0</text>
<text transform="translate(414.243 203.933)" x="2.728" y="0" font-size="13.941" textLength="8.753" lengthAdjust="spacingAndGlyphs" fill="#000000" font-weight="bold">6</text>
<text transform="translate(414.243 203.933)" x="12.184" y="0" font-size="13.941" textLength="8.046" lengthAdjust="spacingAndGlyphs" fill="#000000" font-weight="bold">5</text>
<text transform="translate(484.386 203.933)" x="-26.483" y="0" font-size="13.941" textLength="9.204" lengthAdjust="spacingAndGlyphs" fill="#ffffff" font-weight="bold">0</text>
<text transform="translate(484.386 203.933)" x="-17.100" y="0" font-size="13.941" textLength="4.539" lengthAdjust="spacingAndGlyphs" fill="#ffffff" font-weight="bold">.</text>
<text transform="translate(484.386 203.933)" x="-12.374" y="0" font-size="13.941" textLength="9.204" lengthAdjust="spacingAndGlyphs" fill="#ffffff" font-weight="bold">0</text>
<text transform="translate(484.386 203.933)" x="-2.655" y="0" font-size="13.941" textLength="8.060" lengthAdjust="spacingAndGlyphs" fill="#ffffff" font-weight="bold">1</text>
<text transform="translate(484.386 203.933)" x="5.878" y="0" font-size="13.941" textLength="9.204" lengthAdjust="spacingAndGlyphs" fill="#ffffff" font-weight="bold">0</text>
<text transform="translate(484.386 203.933)" x="19.812" y="0" font-size="13.941" textLength="6.398" lengthAdjust="spacingAndGlyphs" fill="#ffffff" font-weight="bold">*</text>
<text transform="translate(554.529 203.933)" x="-29.913" y="0" font-size="13.941" textLength="9.204" lengthAdjust="spacingAndGlyphs" fill="#ffffff" font-weight="bold">0</text>
<text transform="translate(554.529 203.933)" x="-20.530" y="0" font-size="13.941" textLength="4.539" lengthAdjust="spacingAndGlyphs" fill="#ffffff" font-weight="bold">.</text>
<text transform="translate(554.529 203.933)" x="-15.804" y="0" font-size="13.941" textLength="9.204" lengthAdjust="spacingAndGlyphs" fill="#ffffff" font-weight="bold">0</text>
<text transform="translate(554.529 203.933)" x="-6.678" y="0" font-size="13.941" textLength="9.204" lengthAdjust="spacingAndGlyphs" fill="#ffffff" font-weight="bold">0</text>
<text transform="translate(554.529 203.933)" x="2.712" y="0" font-size="13.941" textLength="8.753" lengthAdjust="spacingAndGlyphs" fill="#ffffff" font-weight="bold">6</text>
<text transform="translate(554.529 203.933)" x="16.382" y="0" font-size="13.941" textLength="6.398" lengthAdjust="spacingAndGlyphs" fill="#ffffff" font-weight="bold">*</text>
<text transform="translate(554.529 203.933)" x="23.241" y="0" font-size="13.941" textLength="6.398" lengthAdjust="spacingAndGlyphs" fill="#ffffff" font-weight="bold">*</text>
<text transform="translate(133.671 274.019)" x="-26.483" y="0" font-size="13.941" textLength="9.204" lengthAdjust="spacingAndGlyphs" fill="#ffffff" font-weight="bold">0</text>
<text transform="translate(133.671 274.019)" x="-17.100" y="0" font-size="13.941" textLength="4.539" lengthAdjust="spacingAndGlyphs" fill="#ffffff" font-weight="bold">.</text>
<text transform="translate(133.671 274.019)" x="-12.374" y="0" font-size="13.941" textLength="9.204" lengthAdjust="spacingAndGlyphs" fill="#ffffff" font-weight="bold">0</text>
<text transform="translate(133.671 274.019)" x="-2.677" y="0" font-size="13.941" textLength="8.061" lengthAdjust="spacingAndGlyphs" fill="#ffffff" font-weight="bold">3</text>
<text transform="translate(133.671 274.019)" x="5.878" y="0" font-size="13.941" textLength="9.204" lengthAdjust="spacingAndGlyphs" fill="#ffffff" font-weight="bold">0</text>
<text transform="translate(133.671 274.019)" x="19.812" y="0" font-size="13.941" textLength="6.398" lengthAdjust="spacingAndGlyphs" fill="#ffffff" font-weight="bold">*</text>
<text transform="translate(203.814 274.019)" x="-26.483" y="0" font-size="13.941" textLength="9.204" lengthAdjust="spacingAndGlyphs" fill="#ffffff" font-weight="bold">0</text>
<text transform="translate(203.814 274.019)" x="-17.100" y="0" font-size="13.941" textLength="4.539" lengthAdjust="spacingAndGlyphs" fill="#ffffff" font-weight="bold">.</text>
<text transform="translate(203.814 274.019)" x="-12.374" y="0" font-size="13.941" textLength="9.204" lengthAdjust="spacingAndGlyphs" fill="#ffffff" font-weight="bold">0</text>
<text transform="translate(203.814 274.019)" x="-2.677" y="0" font-size="13.941" textLength="8.061" lengthAdjust="spacingAndGlyphs" fill="#ffffff" font-weight="bold">3</text>
<text transform="translate(203.814 274.019)" x="6.472" y="0" font-size="13.941" textLength="8.046" lengthAdjust="spacingAndGlyphs" fill="#ffffff" font-weight="bold">5</text>
<text transform="translate(203.814 274.019)" x="19.812" y="0" font-size="13.941" textLength="6.398" lengthAdjust="spacingAndGlyphs" fill="#ffffff" font-weight="bold">*</text>
<text transform="translate(273.957 274.019)" x="-20.770" y="0" font-size="13.941" textLength="9.204" lengthAdjust="spacingAndGlyphs" fill="#000000" font-weight="bold">0</text>
<text transform="translate(273.957 274.019)" x="-11.388" y="0" font-size="13.941" textLength="4.539" lengthAdjust="spacingAndGlyphs" fill="#000000" font-weight="bold">.</text>
<text transform="translate(273.957 274.019)" x="-6.662" y="0" font-size="13.941" textLength="9.204" lengthAdjust="spacingAndGlyphs" fill="#000000" font-weight="bold">0</text>
<text transform="translate(273.957 274.019)" x="2.809" y="0" font-size="13.941" textLength="8.463" lengthAdjust="spacingAndGlyphs" fill="#000000" font-weight="bold">8</text>
<text transform="translate(273.957 274.019)" x="11.590" y="0" font-size="13.941" textLength="9.204" lengthAdjust="spacingAndGlyphs" fill="#000000" font-weight="bold">0</text>
<text transform="translate(344.100 274.019)" x="-20.177" y="0" font-size="13.941" textLength="8.060" lengthAdjust="spacingAndGlyphs" fill="#000000" font-weight="bold">1</text>
<text transform="translate(344.100 274.019)" x="-11.388" y="0" font-size="13.941" textLength="4.539" lengthAdjust="spacingAndGlyphs" fill="#000000" font-weight="bold">.</text>
<text transform="translate(344.100 274.019)" x="-6.662" y="0" font-size="13.941" textLength="9.204" lengthAdjust="spacingAndGlyphs" fill="#000000" font-weight="bold">0</text>
<text transform="translate(344.100 274.019)" x="2.464" y="0" font-size="13.941" textLength="9.204" lengthAdjust="spacingAndGlyphs" fill="#000000" font-weight="bold">0</text>
<text transform="translate(344.100 274.019)" x="11.590" y="0" font-size="13.941" textLength="9.204" lengthAdjust="spacingAndGlyphs" fill="#000000" font-weight="bold">0</text>
<text transform="translate(414.243 274.019)" x="-20.770" y="0" font-size="13.941" textLength="9.204" lengthAdjust="spacingAndGlyphs" fill="#000000" font-weight="bold">0</text>
<text transform="translate(414.243 274.019)" x="-11.388" y="0" font-size="13.941" textLength="4.539" lengthAdjust="spacingAndGlyphs" fill="#000000" font-weight="bold">.</text>
<text transform="translate(414.243 274.019)" x="-6.662" y="0" font-size="13.941" textLength="9.204" lengthAdjust="spacingAndGlyphs" fill="#000000" font-weight="bold">0</text>
<text transform="translate(414.243 274.019)" x="2.626" y="0" font-size="13.941" textLength="8.736" lengthAdjust="spacingAndGlyphs" fill="#000000" font-weight="bold">9</text>
<text transform="translate(414.243 274.019)" x="11.590" y="0" font-size="13.941" textLength="9.204" lengthAdjust="spacingAndGlyphs" fill="#000000" font-weight="bold">0</text>
<text transform="translate(484.386 274.019)" x="-29.913" y="0" font-size="13.941" textLength="9.204" lengthAdjust="spacingAndGlyphs" fill="#ffffff" font-weight="bold">0</text>
<text transform="translate(484.386 274.019)" x="-20.530" y="0" font-size="13.941" textLength="4.539" lengthAdjust="spacingAndGlyphs" fill="#ffffff" font-weight="bold">.</text>
<text transform="translate(484.386 274.019)" x="-15.804" y="0" font-size="13.941" textLength="9.204" lengthAdjust="spacingAndGlyphs" fill="#ffffff" font-weight="bold">0</text>
<text transform="translate(484.386 274.019)" x="-6.678" y="0" font-size="13.941" textLength="9.204" lengthAdjust="spacingAndGlyphs" fill="#ffffff" font-weight="bold">0</text>
<text transform="translate(484.386 274.019)" x="2.793" y="0" font-size="13.941" textLength="8.463" lengthAdjust="spacingAndGlyphs" fill="#ffffff" font-weight="bold">8</text>
<text transform="translate(484.386 274.019)" x="16.382" y="0" font-size="13.941" textLength="6.398" lengthAdjust="spacingAndGlyphs" fill="#ffffff" font-weight="bold">*</text>
<text transform="translate(484.386 274.019)" x="23.241" y="0" font-size="13.941" textLength="6.398" lengthAdjust="spacingAndGlyphs" fill="#ffffff" font-weight="bold">*</text>
<text transform="translate(554.529 274.019)" x="-29.913" y="0" font-size="13.941" textLength="9.204" lengthAdjust="spacingAndGlyphs" fill="#ffffff" font-weight="bold">0</text>
<text transform="translate(554.529 274.019)" x="-20.530" y="0" font-size="13.941" textLength="4.539" lengthAdjust="spacingAndGlyphs" fill="#ffffff" font-weight="bold">.</text>
<text transform="translate(554.529 274.019)" x="-15.804" y="0" font-size="13.941" textLength="9.204" lengthAdjust="spacingAndGlyphs" fill="#ffffff" font-weight="bold">0</text>
<text transform="translate(554.529 274.019)" x="-6.678" y="0" font-size="13.941" textLength="9.204" lengthAdjust="spacingAndGlyphs" fill="#ffffff" font-weight="bold">0</text>
<text transform="translate(554.529 274.019)" x="3.042" y="0" font-size="13.941" textLength="8.046" lengthAdjust="spacingAndGlyphs" fill="#ffffff" font-weight="bold">5</text>
<text transform="translate(554.529 274.019)" x="16.382" y="0" font-size="13.941" textLength="6.398" lengthAdjust="spacingAndGlyphs" fill="#ffffff" font-weight="bold">*</text>
<text transform="translate(554.529 274.019)" x="23.241" y="0" font-size="13.941" textLength="6.398" lengthAdjust="spacingAndGlyphs" fill="#ffffff" font-weight="bold">*</text>
<text transform="translate(133.671 344.105)" x="-26.483" y="0" font-size="13.941" textLength="9.204" lengthAdjust="spacingAndGlyphs" fill="#ffffff" font-weight="bold">0</text>
<text transform="translate(133.671 344.105)" x="-17.100" y="0" font-size="13.941" textLength="4.539" lengthAdjust="spacingAndGlyphs" fill="#ffffff" font-weight="bold">.</text>
<text transform="translate(133.671 344.105)" x="-12.374" y="0" font-size="13.941" textLength="9.204" lengthAdjust="spacingAndGlyphs" fill="#ffffff" font-weight="bold">0</text>
<text transform="translate(133.671 344.105)" x="-2.684" y="0" font-size="13.941" textLength="8.027" lengthAdjust="spacingAndGlyphs" fill="#ffffff" font-weight="bold">2</text>
<text transform="translate(133.671 344.105)" x="5.878" y="0" font-size="13.941" textLength="9.204" lengthAdjust="spacingAndGlyphs" fill="#ffffff" font-weight="bold">0</text>
<text transform="translate(133.671 344.105)" x="19.812" y="0" font-size="13.941" textLength="6.398" lengthAdjust="spacingAndGlyphs" fill="#ffffff" font-weight="bold">*</text>
<text transform="translate(203.814 344.105)" x="-26.483" y="0" font-size="13.941" textLength="9.204" lengthAdjust="spacingAndGlyphs" fill="#ffffff" font-weight="bold">0</text>
<text transform="translate(203.814 344.105)" x="-17.100" y="0" font-size="13.941" textLength="4.539" lengthAdjust="spacingAndGlyphs" fill="#ffffff" font-weight="bold">.</text>
<text transform="translate(203.814 344.105)" x="-12.374" y="0" font-size="13.941" textLength="9.204" lengthAdjust="spacingAndGlyphs" fill="#ffffff" font-weight="bold">0</text>
<text transform="translate(203.814 344.105)" x="-2.684" y="0" font-size="13.941" textLength="8.027" lengthAdjust="spacingAndGlyphs" fill="#ffffff" font-weight="bold">2</text>
<text transform="translate(203.814 344.105)" x="6.222" y="0" font-size="13.941" textLength="8.463" lengthAdjust="spacingAndGlyphs" fill="#ffffff" font-weight="bold">8</text>
<text transform="translate(203.814 344.105)" x="19.812" y="0" font-size="13.941" textLength="6.398" lengthAdjust="spacingAndGlyphs" fill="#ffffff" font-weight="bold">*</text>
<text transform="translate(273.957 344.105)" x="-20.770" y="0" font-size="13.941" textLength="9.204" lengthAdjust="spacingAndGlyphs" fill="#000000" font-weight="bold">0</text>
<text transform="translate(273.957 344.105)" x="-11.388" y="0" font-size="13.941" textLength="4.539" lengthAdjust="spacingAndGlyphs" fill="#000000" font-weight="bold">.</text>
<text transform="translate(273.957 344.105)" x="-6.662" y="0" font-size="13.941" textLength="9.204" lengthAdjust="spacingAndGlyphs" fill="#000000" font-weight="bold">0</text>
<text transform="translate(273.957 344.105)" x="2.728" y="0" font-size="13.941" textLength="8.753" lengthAdjust="spacingAndGlyphs" fill="#000000" font-weight="bold">6</text>
<text transform="translate(273.957 344.105)" x="12.184" y="0" font-size="13.941" textLength="8.046" lengthAdjust="spacingAndGlyphs" fill="#000000" font-weight="bold">5</text>
<text transform="translate(344.100 344.105)" x="-20.770" y="0" font-size="13.941" textLength="9.204" lengthAdjust="spacingAndGlyphs" fill="#000000" font-weight="bold">0</text>
<text transform="translate(344.100 344.105)" x="-11.388" y="0" font-size="13.941" textLength="4.539" lengthAdjust="spacingAndGlyphs" fill="#000000" font-weight="bold">.</text>
<text transform="translate(344.100 344.105)" x="-6.662" y="0" font-size="13.941" textLength="9.204" lengthAdjust="spacingAndGlyphs" fill="#000000" font-weight="bold">0</text>
<text transform="translate(344.100 344.105)" x="2.626" y="0" font-size="13.941" textLength="8.736" lengthAdjust="spacingAndGlyphs" fill="#000000" font-weight="bold">9</text>
<text transform="translate(344.100 344.105)" x="11.590" y="0" font-size="13.941" textLength="9.204" lengthAdjust="spacingAndGlyphs" fill="#000000" font-weight="bold">0</text>
<text transform="translate(414.243 344.105)" x="-20.177" y="0" font-size="13.941" textLength="8.060" lengthAdjust="spacingAndGlyphs" fill="#000000" font-weight="bold">1</text>
<text transform="translate(414.243 344.105)" x="-11.388" y="0" font-size="13.941" textLength="4.539" lengthAdjust="spacingAndGlyphs" fill="#000000" font-weight="bold">.</text>
<text transform="translate(414.243 344.105)" x="-6.662" y="0" font-size="13.941" textLength="9.204" lengthAdjust="spacingAndGlyphs" fill="#000000" font-weight="bold">0</text>
<text transform="translate(414.243 344.105)" x="2.464" y="0" font-size="13.941" textLength="9.204" lengthAdjust="spacingAndGlyphs" fill="#000000" font-weight="bold">0</text>
<text transform="translate(414.243 344.105)" x="11.590" y="0" font-size="13.941" textLength="9.204" lengthAdjust="spacingAndGlyphs" fill="#000000" font-weight="bold">0</text>
<text transform="translate(484.386 344.105)" x="-29.913" y="0" font-size="13.941" textLength="9.204" lengthAdjust="spacingAndGlyphs" fill="#ffffff" font-weight="bold">0</text>
<text transform="translate(484.386 344.105)" x="-20.530" y="0" font-size="13.941" textLength="4.539" lengthAdjust="spacingAndGlyphs" fill="#ffffff" font-weight="bold">.</text>
<text transform="translate(484.386 344.105)" x="-15.804" y="0" font-size="13.941" textLength="9.204" lengthAdjust="spacingAndGlyphs" fill="#ffffff" font-weight="bold">0</text>
<text transform="translate(484.386 344.105)" x="-6.678" y="0" font-size="13.941" textLength="9.204" lengthAdjust="spacingAndGlyphs" fill="#ffffff" font-weight="bold">0</text>
<text transform="translate(484.386 344.105)" x="2.693" y="0" font-size="13.941" textLength="8.539" lengthAdjust="spacingAndGlyphs" fill="#ffffff" font-weight="bold">7</text>
<text transform="translate(484.386 344.105)" x="16.382" y="0" font-size="13.941" textLength="6.398" lengthAdjust="spacingAndGlyphs" fill="#ffffff" font-weight="bold">*</text>
<text transform="translate(484.386 344.105)" x="23.241" y="0" font-size="13.941" textLength="6.398" lengthAdjust="spacingAndGlyphs" fill="#ffffff" font-weight="bold">*</text>
<text transform="translate(554.529 344.105)" x="-29.913" y="0" font-size="13.941" textLength="9.204" lengthAdjust="spacingAndGlyphs" fill="#ffffff" font-weight="bold">0</text>
<text transform="translate(554.529 344.105)" x="-20.530" y="0" font-size="13.941" textLength="4.539" lengthAdjust="spacingAndGlyphs" fill="#ffffff" font-weight="bold">.</text>
<text transform="translate(554.529 344.105)" x="-15.804" y="0" font-size="13.941" textLength="9.204" lengthAdjust="spacingAndGlyphs" fill="#ffffff" font-weight="bold">0</text>
<text transform="translate(554.529 344.105)" x="-6.678" y="0" font-size="13.941" textLength="9.204" lengthAdjust="spacingAndGlyphs" fill="#ffffff" font-weight="bold">0</text>
<text transform="translate(554.529 344.105)" x="2.840" y="0" font-size="13.941" textLength="8.239" lengthAdjust="spacingAndGlyphs" fill="#ffffff" font-weight="bold">4</text>
<text transform="translate(554.529 344.105)" x="16.382" y="0" font-size="13.941" textLength="6.398" lengthAdjust="spacingAndGlyphs" fill="#ffffff" font-weight="bold">*</text>
<text transform="translate(554.529 344.105)" x="23.241" y="0" font-size="13.941" textLength="6.398" lengthAdjust="spacingAndGlyphs" fill="#ffffff" font-weight="bold">*</text>
<text transform="translate(133.671 414.191)" x="-29.913" y="0" font-size="13.941" textLength="9.204" lengthAdjust="spacingAndGlyphs" fill="#ffffff" font-weight="bold">0</text>
<text transform="translate(133.671 414.191)" x="-20.530" y="0" font-size="13.941" textLength="4.539" lengthAdjust="spacingAndGlyphs" fill="#ffffff" font-weight="bold">.</text>
<text transform="translate(133.671 414.191)" x="-15.804" y="0" font-size="13.941" textLength="9.204" lengthAdjust="spacingAndGlyphs" fill="#ffffff" font-weight="bold">0</text>
<text transform="translate(133.671 414.191)" x="-6.678" y="0" font-size="13.941" textLength="9.204" lengthAdjust="spacingAndGlyphs" fill="#ffffff" font-weight="bold">0</text>
<text transform="translate(133.671 414.191)" x="3.042" y="0" font-size="13.941" textLength="8.060" lengthAdjust="spacingAndGlyphs" fill="#ffffff" font-weight="bold">1</text>
<text transform="translate(133.671 414.191)" x="16.382" y="0" font-size="13.941" textLength="6.398" lengthAdjust="spacingAndGlyphs" fill="#ffffff" font-weight="bold">*</text>
<text transform="translate(133.671 414.191)" x="23.241" y="0" font-size="13.941" textLength="6.398" lengthAdjust="spacingAndGlyphs" fill="#ffffff" font-weight="bold">*</text>
<text transform="translate(203.814 414.191)" x="-29.913" y="0" font-size="13.941" textLength="9.204" lengthAdjust="spacingAndGlyphs" fill="#ffffff" font-weight="bold">0</text>
<text transform="translate(203.814 414.191)" x="-20.530" y="0" font-size="13.941" textLength="4.539" lengthAdjust="spacingAndGlyphs" fill="#ffffff" font-weight="bold">.</text>
<text transform="translate(203.814 414.191)" x="-15.804" y="0" font-size="13.941" textLength="9.204" lengthAdjust="spacingAndGlyphs" fill="#ffffff" font-weight="bold">0</text>
<text transform="translate(203.814 414.191)" x="-6.678" y="0" font-size="13.941" textLength="9.204" lengthAdjust="spacingAndGlyphs" fill="#ffffff" font-weight="bold">0</text>
<text transform="translate(203.814 414.191)" x="3.012" y="0" font-size="13.941" textLength="8.027" lengthAdjust="spacingAndGlyphs" fill="#ffffff" font-weight="bold">2</text>
<text transform="translate(203.814 414.191)" x="16.382" y="0" font-size="13.941" textLength="6.398" lengthAdjust="spacingAndGlyphs" fill="#ffffff" font-weight="bold">*</text>
<text transform="translate(203.814 414.191)" x="23.241" y="0" font-size="13.941" textLength="6.398" lengthAdjust="spacingAndGlyphs" fill="#ffffff" font-weight="bold">*</text>
<text transform="translate(273.957 414.191)" x="-26.483" y="0" font-size="13.941" textLength="9.204" lengthAdjust="spacingAndGlyphs" fill="#ffffff" font-weight="bold">0</text>
<text transform="translate(273.957 414.191)" x="-17.100" y="0" font-size="13.941" textLength="4.539" lengthAdjust="spacingAndGlyphs" fill="#ffffff" font-weight="bold">.</text>
<text transform="translate(273.957 414.191)" x="-12.374" y="0" font-size="13.941" textLength="9.204" lengthAdjust="spacingAndGlyphs" fill="#ffffff" font-weight="bold">0</text>
<text transform="translate(273.957 414.191)" x="-2.655" y="0" font-size="13.941" textLength="8.060" lengthAdjust="spacingAndGlyphs" fill="#ffffff" font-weight="bold">1</text>
<text transform="translate(273.957 414.191)" x="5.878" y="0" font-size="13.941" textLength="9.204" lengthAdjust="spacingAndGlyphs" fill="#ffffff" font-weight="bold">0</text>
<text transform="translate(273.957 414.191)" x="19.812" y="0" font-size="13.941" textLength="6.398" lengthAdjust="spacingAndGlyphs" fill="#ffffff" font-weight="bold">*</text>
<text transform="translate(344.100 414.191)" x="-29.913" y="0" font-size="13.941" textLength="9.204" lengthAdjust="spacingAndGlyphs" fill="#ffffff" font-weight="bold">0</text>
<text transform="translate(344.100 414.191)" x="-20.530" y="0" font-size="13.941" textLength="4.539" lengthAdjust="spacingAndGlyphs" fill="#ffffff" font-weight="bold">.</text>
<text transform="translate(344.100 414.191)" x="-15.804" y="0" font-size="13.941" textLength="9.204" lengthAdjust="spacingAndGlyphs" fill="#ffffff" font-weight="bold">0</text>
<text transform="translate(344.100 414.191)" x="-6.678" y="0" font-size="13.941" textLength="9.204" lengthAdjust="spacingAndGlyphs" fill="#ffffff" font-weight="bold">0</text>
<text transform="translate(344.100 414.191)" x="2.793" y="0" font-size="13.941" textLength="8.463" lengthAdjust="spacingAndGlyphs" fill="#ffffff" font-weight="bold">8</text>
<text transform="translate(344.100 414.191)" x="16.382" y="0" font-size="13.941" textLength="6.398" lengthAdjust="spacingAndGlyphs" fill="#ffffff" font-weight="bold">*</text>
<text transform="translate(344.100 414.191)" x="23.241" y="0" font-size="13.941" textLength="6.398" lengthAdjust="spacingAndGlyphs" fill="#ffffff" font-weight="bold">*</text>
<text transform="translate(414.243 414.191)" x="-29.913" y="0" font-size="13.941" textLength="9.204" lengthAdjust="spacingAndGlyphs" fill="#ffffff" font-weight="bold">0</text>
<text transform="translate(414.243 414.191)" x="-20.530" y="0" font-size="13.941" textLength="4.539" lengthAdjust="spacingAndGlyphs" fill="#ffffff" font-weight="bold">.</text>
<text transform="translate(414.243 414.191)" x="-15.804" y="0" font-size="13.941" textLength="9.204" lengthAdjust="spacingAndGlyphs" fill="#ffffff" font-weight="bold">0</text>
<text transform="translate(414.243 414.191)" x="-6.678" y="0" font-size="13.941" textLength="9.204" lengthAdjust="spacingAndGlyphs" fill="#ffffff" font-weight="bold">0</text>
<text transform="translate(414.243 414.191)" x="2.693" y="0" font-size="13.941" textLength="8.539" lengthAdjust="spacingAndGlyphs" fill="#ffffff" font-weight="bold">7</text>
<text transform="translate(414.243 414.191)" x="16.382" y="0" font-size="13.941" textLength="6.398" lengthAdjust="spacingAndGlyphs" fill="#ffffff" font-weight="bold">*</text>
<text transform="translate(414.243 414.191)" x="23.241" y="0" font-size="13.941" textLength="6.398" lengthAdjust="spacingAndGlyphs" fill="#ffffff" font-weight="bold">*</text>
<text transform="translate(484.386 414.191)" x="-20.177" y="0" font-size="13.941" textLength="8.060" lengthAdjust="spacingAndGlyphs" fill="#000000" font-weight="bold">1</text>
<text transform="translate(484.386 414.191)" x="-11.388" y="0" font-size="13.941" textLength="4.539" lengthAdjust="spacingAndGlyphs" fill="#000000" font-weight="bold">.</text>
<text transform="translate(484.386 414.191)" x="-6.662" y="0" font-size="13.941" textLength="9.204" lengthAdjust="spacingAndGlyphs" fill="#000000" font-weight="bold">0</text>
<text transform="translate(484.386 414.191)" x="2.464" y="0" font-size="13.941" textLength="9.204" lengthAdjust="spacingAndGlyphs" fill="#000000" font-weight="bold">0</text>
<text transform="translate(484.386 414.191)" x="11.590" y="0" font-size="13.941" textLength="9.204" lengthAdjust="spacingAndGlyphs" fill="#000000" font-weight="bold">0</text>
<text transform="translate(554.529 414.191)" x="-20.770" y="0" font-size="13.941" textLength="9.204" lengthAdjust="spacingAndGlyphs" fill="#000000" font-weight="bold">0</text>
<text transform="translate(554.529 414.191)" x="-11.388" y="0" font-size="13.941" textLength="4.539" lengthAdjust="spacingAndGlyphs" fill="#000000" font-weight="bold">.</text>
<text transform="translate(554.529 414.191)" x="-6.068" y="0" font-size="13.941" textLength="8.060" lengthAdjust="spacingAndGlyphs" fill="#000000" font-weight="bold">1</text>
<text transform="translate(554.529 414.191)" x="3.058" y="0" font-size="13.941" textLength="8.046" lengthAdjust="spacingAndGlyphs" fill="#000000" font-weight="bold">5</text>
<text transform="translate(554.529 414.191)" x="11.590" y="0" font-size="13.941" textLength="9.204" lengthAdjust="spacingAndGlyphs" fill="#000000" font-weight="bold">0</text>
<text transform="translate(133.671 484.276)" x="-33.342" y="0" font-size="13.941" textLength="9.204" lengthAdjust="spacingAndGlyphs" fill="#ffffff" font-weight="bold">0</text>
<text transform="translate(133.671 484.276)" x="-23.959" y="0" font-size="13.941" textLength="4.539" lengthAdjust="spacingAndGlyphs" fill="#ffffff" font-weight="bold">.</text>
<text transform="translate(133.671 484.276)" x="-19.233" y="0" font-size="13.941" textLength="9.204" lengthAdjust="spacingAndGlyphs" fill="#ffffff" font-weight="bold">0</text>
<text transform="translate(133.671 484.276)" x="-10.107" y="0" font-size="13.941" textLength="9.204" lengthAdjust="spacingAndGlyphs" fill="#ffffff" font-weight="bold">0</text>
<text transform="translate(133.671 484.276)" x="-0.388" y="0" font-size="13.941" textLength="8.060" lengthAdjust="spacingAndGlyphs" fill="#ffffff" font-weight="bold">1</text>
<text transform="translate(133.671 484.276)" x="12.953" y="0" font-size="13.941" textLength="6.398" lengthAdjust="spacingAndGlyphs" fill="#ffffff" font-weight="bold">*</text>
<text transform="translate(133.671 484.276)" x="19.812" y="0" font-size="13.941" textLength="6.398" lengthAdjust="spacingAndGlyphs" fill="#ffffff" font-weight="bold">*</text>
<text transform="translate(133.671 484.276)" x="26.671" y="0" font-size="13.941" textLength="6.398" lengthAdjust="spacingAndGlyphs" fill="#ffffff" font-weight="bold">*</text>
<text transform="translate(203.814 484.276)" x="-29.913" y="0" font-size="13.941" textLength="9.204" lengthAdjust="spacingAndGlyphs" fill="#ffffff" font-weight="bold">0</text>
<text transform="translate(203.814 484.276)" x="-20.530" y="0" font-size="13.941" textLength="4.539" lengthAdjust="spacingAndGlyphs" fill="#ffffff" font-weight="bold">.</text>
<text transform="translate(203.814 484.276)" x="-15.804" y="0" font-size="13.941" textLength="9.204" lengthAdjust="spacingAndGlyphs" fill="#ffffff" font-weight="bold">0</text>
<text transform="translate(203.814 484.276)" x="-6.678" y="0" font-size="13.941" textLength="9.204" lengthAdjust="spacingAndGlyphs" fill="#ffffff" font-weight="bold">0</text>
<text transform="translate(203.814 484.276)" x="3.042" y="0" font-size="13.941" textLength="8.060" lengthAdjust="spacingAndGlyphs" fill="#ffffff" font-weight="bold">1</text>
<text transform="translate(203.814 484.276)" x="16.382" y="0" font-size="13.941" textLength="6.398" lengthAdjust="spacingAndGlyphs" fill="#ffffff" font-weight="bold">*</text>
<text transform="translate(203.814 484.276)" x="23.241" y="0" font-size="13.941" textLength="6.398" lengthAdjust="spacingAndGlyphs" fill="#ffffff" font-weight="bold">*</text>
<text transform="translate(273.957 484.276)" x="-29.913" y="0" font-size="13.941" textLength="9.204" lengthAdjust="spacingAndGlyphs" fill="#ffffff" font-weight="bold">0</text>
<text transform="translate(273.957 484.276)" x="-20.530" y="0" font-size="13.941" textLength="4.539" lengthAdjust="spacingAndGlyphs" fill="#ffffff" font-weight="bold">.</text>
<text transform="translate(273.957 484.276)" x="-15.804" y="0" font-size="13.941" textLength="9.204" lengthAdjust="spacingAndGlyphs" fill="#ffffff" font-weight="bold">0</text>
<text transform="translate(273.957 484.276)" x="-6.678" y="0" font-size="13.941" textLength="9.204" lengthAdjust="spacingAndGlyphs" fill="#ffffff" font-weight="bold">0</text>
<text transform="translate(273.957 484.276)" x="2.712" y="0" font-size="13.941" textLength="8.753" lengthAdjust="spacingAndGlyphs" fill="#ffffff" font-weight="bold">6</text>
<text transform="translate(273.957 484.276)" x="16.382" y="0" font-size="13.941" textLength="6.398" lengthAdjust="spacingAndGlyphs" fill="#ffffff" font-weight="bold">*</text>
<text transform="translate(273.957 484.276)" x="23.241" y="0" font-size="13.941" textLength="6.398" lengthAdjust="spacingAndGlyphs" fill="#ffffff" font-weight="bold">*</text>
<text transform="translate(344.100 484.276)" x="-29.913" y="0" font-size="13.941" textLength="9.204" lengthAdjust="spacingAndGlyphs" fill="#ffffff" font-weight="bold">0</text>
<text transform="translate(344.100 484.276)" x="-20.530" y="0" font-size="13.941" textLength="4.539" lengthAdjust="spacingAndGlyphs" fill="#ffffff" font-weight="bold">.</text>
<text transform="translate(344.100 484.276)" x="-15.804" y="0" font-size="13.941" textLength="9.204" lengthAdjust="spacingAndGlyphs" fill="#ffffff" font-weight="bold">0</text>
<text transform="translate(344.100 484.276)" x="-6.678" y="0" font-size="13.941" textLength="9.204" lengthAdjust="spacingAndGlyphs" fill="#ffffff" font-weight="bold">0</text>
<text transform="translate(344.100 484.276)" x="3.042" y="0" font-size="13.941" textLength="8.046" lengthAdjust="spacingAndGlyphs" fill="#ffffff" font-weight="bold">5</text>
<text transform="translate(344.100 484.276)" x="16.382" y="0" font-size="13.941" textLength="6.398" lengthAdjust="spacingAndGlyphs" fill="#ffffff" font-weight="bold">*</text>
<text transform="translate(344.100 484.276)" x="23.241" y="0" font-size="13.941" textLength="6.398" lengthAdjust="spacingAndGlyphs" fill="#ffffff" font-weight="bold">*</text>
<text transform="translate(414.243 484.276)" x="-29.913" y="0" font-size="13.941" textLength="9.204" lengthAdjust="spacingAndGlyphs" fill="#ffffff" font-weight="bold">0</text>
<text transform="translate(414.243 484.276)" x="-20.530" y="0" font-size="13.941" textLength="4.539" lengthAdjust="spacingAndGlyphs" fill="#ffffff" font-weight="bold">.</text>
<text transform="translate(414.243 484.276)" x="-15.804" y="0" font-size="13.941" textLength="9.204" lengthAdjust="spacingAndGlyphs" fill="#ffffff" font-weight="bold">0</text>
<text transform="translate(414.243 484.276)" x="-6.678" y="0" font-size="13.941" textLength="9.204" lengthAdjust="spacingAndGlyphs" fill="#ffffff" font-weight="bold">0</text>
<text transform="translate(414.243 484.276)" x="2.840" y="0" font-size="13.941" textLength="8.239" lengthAdjust="spacingAndGlyphs" fill="#ffffff" font-weight="bold">4</text>
<text transform="translate(414.243 484.276)" x="16.382" y="0" font-size="13.941" textLength="6.398" lengthAdjust="spacingAndGlyphs" fill="#ffffff" font-weight="bold">*</text>
<text transform="translate(414.243 484.276)" x="23.241" y="0" font-size="13.941" textLength="6.398" lengthAdjust="spacingAndGlyphs" fill="#ffffff" font-weight="bold">*</text>
<text transform="translate(484.386 484.276)" x="-20.770" y="0" font-size="13.941" textLength="9.204" lengthAdjust="spacingAndGlyphs" fill="#000000" font-weight="bold">0</text>
<text transform="translate(484.386 484.276)" x="-11.388" y="0" font-size="13.941" textLength="4.539" lengthAdjust="spacingAndGlyphs" fill="#000000" font-weight="bold">.</text>
<text transform="translate(484.386 484.276)" x="-6.068" y="0" font-size="13.941" textLength="8.060" lengthAdjust="spacingAndGlyphs" fill="#000000" font-weight="bold">1</text>
<text transform="translate(484.386 484.276)" x="3.058" y="0" font-size="13.941" textLength="8.046" lengthAdjust="spacingAndGlyphs" fill="#000000" font-weight="bold">5</text>
<text transform="translate(484.386 484.276)" x="11.590" y="0" font-size="13.941" textLength="9.204" lengthAdjust="spacingAndGlyphs" fill="#000000" font-weight="bold">0</text>
<text transform="translate(554.529 484.276)" x="-20.177" y="0" font-size="13.941" textLength="8.060" lengthAdjust="spacingAndGlyphs" fill="#000000" font-weight="bold">1</text>
<text transform="translate(554.529 484.276)" x="-11.388" y="0" font-size="13.941" textLength="4.539" lengthAdjust="spacingAndGlyphs" fill="#000000" font-weight="bold">.</text>
<text transform="translate(554.529 484.276)" x="-6.662" y="0" font-size="13.941" textLength="9.204" lengthAdjust="spacingAndGlyphs" fill="#000000" font-weight="bold">0</text>
<text transform="translate(554.529 484.276)" x="2.464" y="0" font-size="13.941" textLength="9.204" lengthAdjust="spacingAndGlyphs" fill="#000000" font-weight="bold">0</text>
<text transform="translate(554.529 484.276)" x="11.590" y="0" font-size="13.941" textLength="9.204" lengthAdjust="spacingAndGlyphs" fill="#000000" font-weight="bold">0</text>
<text transform="translate(345.500 16.042)" x="-216.172" y="0" font-size="20.629" textLength="12.904" lengthAdjust="spacingAndGlyphs" fill="#333333" font-weight="bold" stroke="#333333" stroke-width="0.245">S</text>
<text transform="translate(345.500 16.042)" x="-202.818" y="0" font-size="20.629" textLength="6.964" lengthAdjust="spacingAndGlyphs" fill="#333333" font-weight="bold" stroke="#333333" stroke-width="0.245">i</text>
<text transform="translate(345.500 16.042)" x="-196.034" y="0" font-size="20.629" textLength="14.024" lengthAdjust="spacingAndGlyphs" fill="#333333" font-weight="bold" stroke="#333333" stroke-width="0.245">g</text>
<text transform="translate(345.500 16.042)" x="-181.717" y="0" font-size="20.629" textLength="13.682" lengthAdjust="spacingAndGlyphs" fill="#333333" font-weight="bold" stroke="#333333" stroke-width="0.245">n</text>
<text transform="translate(345.500 16.042)" x="-167.985" y="0" font-size="20.629" textLength="6.964" lengthAdjust="spacingAndGlyphs" fill="#333333" font-weight="bold" stroke="#333333" stroke-width="0.245">i</text>
<text transform="translate(345.500 16.042)" x="-161.218" y="0" font-size="20.629" textLength="8.756" lengthAdjust="spacingAndGlyphs" fill="#333333" font-weight="bold" stroke="#333333" stroke-width="0.245">f</text>
<text transform="translate(345.500 16.042)" x="-152.682" y="0" font-size="20.629" textLength="6.964" lengthAdjust="spacingAndGlyphs" fill="#333333" font-weight="bold" stroke="#333333" stroke-width="0.245">i</text>
<text transform="translate(345.500 16.042)" x="-145.756" y="0" font-size="20.629" textLength="10.832" lengthAdjust="spacingAndGlyphs" fill="#333333" font-weight="bold" stroke="#333333" stroke-width="0.245">c</text>
<text transform="translate(345.500 16.042)" x="-133.931" y="0" font-size="20.629" textLength="11.353" lengthAdjust="spacingAndGlyphs" fill="#333333" font-weight="bold" stroke="#333333" stroke-width="0.245">a</text>
<text transform="translate(345.500 16.042)" x="-120.726" y="0" font-size="20.629" textLength="13.682" lengthAdjust="spacingAndGlyphs" fill="#333333" font-weight="bold" stroke="#333333" stroke-width="0.245">n</text>
<text transform="translate(345.500 16.042)" x="-106.811" y="0" font-size="20.629" textLength="10.832" lengthAdjust="spacingAndGlyphs" fill="#333333" font-weight="bold" stroke="#333333" stroke-width="0.245">c</text>
<text transform="translate(345.500 16.042)" x="-95.322" y="0" font-size="20.629" textLength="13.298" lengthAdjust="spacingAndGlyphs" fill="#333333" font-weight="bold" stroke="#333333" stroke-width="0.245">e</text>
<text transform="translate(345.500 16.042)" x="-74.907" y="0" font-size="20.629" textLength="20.220" lengthAdjust="spacingAndGlyphs" fill="#333333" font-weight="bold" stroke="#333333" stroke-width="0.245">m</text>
<text transform="translate(345.500 16.042)" x="-54.299" y="0" font-size="20.629" textLength="11.363" lengthAdjust="spacingAndGlyphs" fill="#333333" font-weight="bold" stroke="#333333" stroke-width="0.245">a</text>
<text transform="translate(345.500 16.042)" x="-41.349" y="0" font-size="20.629" textLength="9.382" lengthAdjust="spacingAndGlyphs" fill="#333333" font-weight="bold" stroke="#333333" stroke-width="0.245">t</text>
<text transform="translate(345.500 16.042)" x="-31.917" y="0" font-size="20.629" textLength="10.095" lengthAdjust="spacingAndGlyphs" fill="#333333" font-weight="bold" stroke="#333333" stroke-width="0.245">r</text>
<text transform="translate(345.500 16.042)" x="-22.255" y="0" font-size="20.629" textLength="6.964" lengthAdjust="spacingAndGlyphs" fill="#333333" font-weight="bold" stroke="#333333" stroke-width="0.245">i</text>
<text transform="translate(345.500 16.042)" x="-15.268" y="0" font-size="20.629" textLength="12.410" lengthAdjust="spacingAndGlyphs" fill="#333333" font-weight="bold" stroke="#333333" stroke-width="0.245">x</text>
<text transform="translate(345.500 16.042)" x="4.806" y="0" font-size="20.629" textLength="6.756" lengthAdjust="spacingAndGlyphs" fill="#333333" font-weight="bold" stroke="#333333" stroke-width="0.245">(</text>
<text transform="translate(345.500 16.042)" x="13.259" y="0" font-size="20.629" textLength="13.997" lengthAdjust="spacingAndGlyphs" fill="#333333" font-weight="bold" stroke="#333333" stroke-width="0.245">p</text>
<text transform="translate(345.500 16.042)" x="27.448" y="0" font-size="20.629" textLength="11.353" lengthAdjust="spacingAndGlyphs" fill="#333333" font-weight="bold" stroke="#333333" stroke-width="0.245">a</text>
<text transform="translate(345.500 16.042)" x="40.379" y="0" font-size="20.629" textLength="6.964" lengthAdjust="spacingAndGlyphs" fill="#333333" font-weight="bold" stroke="#333333" stroke-width="0.245">i</text>
<text transform="translate(345.500 16.042)" x="47.163" y="0" font-size="20.629" textLength="10.095" lengthAdjust="spacingAndGlyphs" fill="#333333" font-weight="bold" stroke="#333333" stroke-width="0.245">r</text>
<text transform="translate(345.500 16.042)" x="57.678" y="0" font-size="20.629" textLength="16.697" lengthAdjust="spacingAndGlyphs" fill="#333333" font-weight="bold" stroke="#333333" stroke-width="0.245">w</text>
<text transform="translate(345.500 16.042)" x="75.001" y="0" font-size="20.629" textLength="6.964" lengthAdjust="spacingAndGlyphs" fill="#333333" font-weight="bold" stroke="#333333" stroke-width="0.245">i</text>
<text transform="translate(345.500 16.042)" x="82.146" y="0" font-size="20.629" textLength="11.309" lengthAdjust="spacingAndGlyphs" fill="#333333" font-weight="bold" stroke="#333333" stroke-width="0.245">s</text>
<text transform="translate(345.500 16.042)" x="93.464" y="0" font-size="20.629" textLength="13.298" lengthAdjust="spacingAndGlyphs" fill="#333333" font-weight="bold" stroke="#333333" stroke-width="0.245">e</text>
<text transform="translate(345.500 16.042)" x="113.887" y="0" font-size="20.629" textLength="13.997" lengthAdjust="spacingAndGlyphs" fill="#333333" font-weight="bold" stroke="#333333" stroke-width="0.245">p</text>
<text transform="translate(345.500 16.042)" x="127.966" y="0" font-size="20.629" textLength="7.912" lengthAdjust="spacingAndGlyphs" fill="#333333" font-weight="bold" stroke="#333333" stroke-width="0.245">-</text>
<text transform="translate(345.500 16.042)" x="136.204" y="0" font-size="20.629" textLength="12.424" lengthAdjust="spacingAndGlyphs" fill="#333333" font-weight="bold" stroke="#333333" stroke-width="0.245">v</text>
<text transform="translate(345.500 16.042)" x="149.066" y="0" font-size="20.629" textLength="11.353" lengthAdjust="spacingAndGlyphs" fill="#333333" font-weight="bold" stroke="#333333" stroke-width="0.245">a</text>
<text transform="translate(345.500 16.042)" x="161.997" y="0" font-size="20.629" textLength="6.964" lengthAdjust="spacingAndGlyphs" fill="#333333" font-weight="bold" stroke="#333333" stroke-width="0.245">l</text>
<text transform="translate(345.500 16.042)" x="168.986" y="0" font-size="20.629" textLength="13.682" lengthAdjust="spacingAndGlyphs" fill="#333333" font-weight="bold" stroke="#333333" stroke-width="0.245">u</text>
<text transform="translate(345.500 16.042)" x="182.756" y="0" font-size="20.629" textLength="13.298" lengthAdjust="spacingAndGlyphs" fill="#333333" font-weight="bold" stroke="#333333" stroke-width="0.245">e</text>
<text transform="translate(345.500 16.042)" x="196.491" y="0" font-size="20.629" textLength="11.309" lengthAdjust="spacingAndGlyphs" fill="#333333" font-weight="bold" stroke="#333333" stroke-width="0.245">s</text>
<text transform="translate(345.500 16.042)" x="209.454" y="0" font-size="20.629" textLength="6.756" lengthAdjust="spacingAndGlyphs" fill="#333333" font-weight="bold" stroke="#333333" stroke-width="0.245">)</text>
<text transform="translate(645.426 422.117)" x="0.324" y="0" font-size="13.941" textLength="7.689" lengthAdjust="spacingAndGlyphs" fill="#222222" stroke="#222222" stroke-width="0.13">0</text>
<text transform="translate(645.426 422.117)" x="8.451" y="0" font-size="13.941" textLength="3.943" lengthAdjust="spacingAndGlyphs" fill="#222222" stroke="#222222" stroke-width="0.13">.</text>
<text transform="translate(645.426 422.117)" x="12.804" y="0" font-size="13.941" textLength="7.412" lengthAdjust="spacingAndGlyphs" fill="#222222" stroke="#222222" stroke-width="0.13">2</text>
<text transform="translate(645.426 323.908)" x="0.324" y="0" font-size="13.941" textLength="7.689" lengthAdjust="spacingAndGlyphs" fill="#222222" stroke="#222222" stroke-width="0.13">0</text>
<text transform="translate(645.426 323.908)" x="8.451" y="0" font-size="13.941" textLength="3.943" lengthAdjust="spacingAndGlyphs" fill="#222222" stroke="#222222" stroke-width="0.13">.</text>
<text transform="translate(645.426 323.908)" x="12.837" y="0" font-size="13.941" textLength="7.690" lengthAdjust="spacingAndGlyphs" fill="#222222" stroke="#222222" stroke-width="0.13">4</text>
<text transform="translate(645.426 225.700)" x="0.324" y="0" font-size="13.941" textLength="7.689" lengthAdjust="spacingAndGlyphs" fill="#222222" stroke="#222222" stroke-width="0.13">0</text>
<text transform="translate(645.426 225.700)" x="8.451" y="0" font-size="13.941" textLength="3.943" lengthAdjust="spacingAndGlyphs" fill="#222222" stroke="#222222" stroke-width="0.13">.</text>
<text transform="translate(645.426 225.700)" x="12.703" y="0" font-size="13.941" textLength="7.958" lengthAdjust="spacingAndGlyphs" fill="#222222" stroke="#222222" stroke-width="0.13">6</text>
<text transform="translate(645.426 128.491)" x="0.324" y="0" font-size="13.941" textLength="7.689" lengthAdjust="spacingAndGlyphs" fill="#222222" stroke="#222222" stroke-width="0.13">0</text>
<text transform="translate(645.426 128.491)" x="8.451" y="0" font-size="13.941" textLength="3.943" lengthAdjust="spacingAndGlyphs" fill="#222222" stroke="#222222" stroke-width="0.13">.</text>
<text transform="translate(645.426 128.491)" x="12.797" y="0" font-size="13.941" textLength="7.773" lengthAdjust="spacingAndGlyphs" fill="#222222" stroke="#222222" stroke-width="0.13">8</text>
<text transform="translate(645.426 30.283)" x="0.435" y="0" font-size="13.941" textLength="7.344" lengthAdjust="spacingAndGlyphs" fill="#222222" stroke="#222222" stroke-width="0.13">1</text>
<text transform="translate(645.426 30.283)" x="8.451" y="0" font-size="13.941" textLength="3.943" lengthAdjust="spacingAndGlyphs" fill="#222222" stroke="#222222" stroke-width="0.13">.</text>
<text transform="translate(645.426 30.283)" x="12.838" y="0" font-size="13.941" textLength="7.689" lengthAdjust="spacingAndGlyphs" fill="#222222" stroke="#222222" stroke-width="0.13">0</text>
<text transform="translate(681.453 270.200) rotate(-90.0)" x="-137.044" y="0" font-size="14.898" textLength="10.109" lengthAdjust="spacingAndGlyphs" fill="#000000" font-weight="bold" stroke="#000000" stroke-width="0.18">p</text>
<text transform="translate(681.453 270.200) rotate(-90.0)" x="-126.876" y="0" font-size="14.898" textLength="5.714" lengthAdjust="spacingAndGlyphs" fill="#000000" font-weight="bold" stroke="#000000" stroke-width="0.18">-</text>
<text transform="translate(681.453 270.200) rotate(-90.0)" x="-120.926" y="0" font-size="14.898" textLength="8.973" lengthAdjust="spacingAndGlyphs" fill="#000000" font-weight="bold" stroke="#000000" stroke-width="0.18">v</text>
<text transform="translate(681.453 270.200) rotate(-90.0)" x="-111.637" y="0" font-size="14.898" textLength="8.199" lengthAdjust="spacingAndGlyphs" fill="#000000" font-weight="bold" stroke="#000000" stroke-width="0.18">a</text>
<text transform="translate(681.453 270.200) rotate(-90.0)" x="-102.298" y="0" font-size="14.898" textLength="5.029" lengthAdjust="spacingAndGlyphs" fill="#000000" font-weight="bold" stroke="#000000" stroke-width="0.18">l</text>
<text transform="translate(681.453 270.200) rotate(-90.0)" x="-97.250" y="0" font-size="14.898" textLength="9.882" lengthAdjust="spacingAndGlyphs" fill="#000000" font-weight="bold" stroke="#000000" stroke-width="0.18">u</text>
<text transform="translate(681.453 270.200) rotate(-90.0)" x="-87.306" y="0" font-size="14.898" textLength="9.604" lengthAdjust="spacingAndGlyphs" fill="#000000" font-weight="bold" stroke="#000000" stroke-width="0.18">e</text>
<text transform="translate(681.453 270.200) rotate(-90.0)" x="-72.167" y="0" font-size="14.898" textLength="4.879" lengthAdjust="spacingAndGlyphs" fill="#000000" font-weight="bold" stroke="#000000" stroke-width="0.18">(</text>
<text transform="translate(681.453 270.200) rotate(-90.0)" x="-66.235" y="0" font-size="14.898" textLength="5.029" lengthAdjust="spacingAndGlyphs" fill="#000000" font-weight="bold" stroke="#000000" stroke-width="0.18">l</text>
<text transform="translate(681.453 270.200) rotate(-90.0)" x="-61.309" y="0" font-size="14.898" textLength="9.793" lengthAdjust="spacingAndGlyphs" fill="#000000" font-weight="bold" stroke="#000000" stroke-width="0.18">o</text>
<text transform="translate(681.453 270.200) rotate(-90.0)" x="-50.987" y="0" font-size="14.898" textLength="12.059" lengthAdjust="spacingAndGlyphs" fill="#000000" font-weight="bold" stroke="#000000" stroke-width="0.18">w</text>
<text transform="translate(681.453 270.200) rotate(-90.0)" x="-38.469" y="0" font-size="14.898" textLength="9.604" lengthAdjust="spacingAndGlyphs" fill="#000000" font-weight="bold" stroke="#000000" stroke-width="0.18">e</text>
<text transform="translate(681.453 270.200) rotate(-90.0)" x="-28.810" y="0" font-size="14.898" textLength="7.291" lengthAdjust="spacingAndGlyphs" fill="#000000" font-weight="bold" stroke="#000000" stroke-width="0.18">r</text>
<text transform="translate(681.453 270.200) rotate(-90.0)" x="-16.045" y="0" font-size="14.898" textLength="10.358" lengthAdjust="spacingAndGlyphs" fill="#000000" font-weight="bold" stroke="#000000" stroke-width="0.18">=</text>
<text transform="translate(681.453 270.200) rotate(-90.0)" x="0.135" y="0" font-size="14.898" textLength="14.603" lengthAdjust="spacingAndGlyphs" fill="#000000" font-weight="bold" stroke="#000000" stroke-width="0.18">m</text>
<text transform="translate(681.453 270.200) rotate(-90.0)" x="14.828" y="0" font-size="14.898" textLength="9.793" lengthAdjust="spacingAndGlyphs" fill="#000000" font-weight="bold" stroke="#000000" stroke-width="0.18">o</text>
<text transform="translate(681.453 270.200) rotate(-90.0)" x="24.564" y="0" font-size="14.898" textLength="7.291" lengthAdjust="spacingAndGlyphs" fill="#000000" font-weight="bold" stroke="#000000" stroke-width="0.18">r</text>
<text transform="translate(681.453 270.200) rotate(-90.0)" x="31.549" y="0" font-size="14.898" textLength="9.604" lengthAdjust="spacingAndGlyphs" fill="#000000" font-weight="bold" stroke="#000000" stroke-width="0.18">e</text>
<text transform="translate(681.453 270.200) rotate(-90.0)" x="46.416" y="0" font-size="14.898" textLength="8.168" lengthAdjust="spacingAndGlyphs" fill="#000000" font-weight="bold" stroke="#000000" stroke-width="0.18">s</text>
<text transform="translate(681.453 270.200) rotate(-90.0)" x="54.583" y="0" font-size="14.898" textLength="5.029" lengthAdjust="spacingAndGlyphs" fill="#000000" font-weight="bold" stroke="#000000" stroke-width="0.18">i</text>
<text transform="translate(681.453 270.200) rotate(-90.0)" x="59.483" y="0" font-size="14.898" textLength="10.129" lengthAdjust="spacingAndGlyphs" fill="#000000" font-weight="bold" stroke="#000000" stroke-width="0.18">g</text>
<text transform="translate(681.453 270.200) rotate(-90.0)" x="69.823" y="0" font-size="14.898" textLength="9.882" lengthAdjust="spacingAndGlyphs" fill="#000000" font-weight="bold" stroke="#000000" stroke-width="0.18">n</text>
<text transform="translate(681.453 270.200) rotate(-90.0)" x="79.740" y="0" font-size="14.898" textLength="5.029" lengthAdjust="spacingAndGlyphs" fill="#000000" font-weight="bold" stroke="#000000" stroke-width="0.18">i</text>
<text transform="translate(681.453 270.200) rotate(-90.0)" x="84.628" y="0" font-size="14.898" textLength="6.323" lengthAdjust="spacingAndGlyphs" fill="#000000" font-weight="bold" stroke="#000000" stroke-width="0.18">f</text>
<text transform="translate(681.453 270.200) rotate(-90.0)" x="90.793" y="0" font-size="14.898" textLength="5.029" lengthAdjust="spacingAndGlyphs" fill="#000000" font-weight="bold" stroke="#000000" stroke-width="0.18">i</text>
<text transform="translate(681.453 270.200) rotate(-90.0)" x="95.697" y="0" font-size="14.898" textLength="8.016" lengthAdjust="spacingAndGlyphs" fill="#000000" font-weight="bold" stroke="#000000" stroke-width="0.18">c</text>
<text transform="translate(681.453 270.200) rotate(-90.0)" x="104.335" y="0" font-size="14.898" textLength="8.199" lengthAdjust="spacingAndGlyphs" fill="#000000" font-weight="bold" stroke="#000000" stroke-width="0.18">a</text>
<text transform="translate(681.453 270.200) rotate(-90.0)" x="113.872" y="0" font-size="14.898" textLength="9.882" lengthAdjust="spacingAndGlyphs" fill="#000000" font-weight="bold" stroke="#000000" stroke-width="0.18">n</text>
<text transform="translate(681.453 270.200) rotate(-90.0)" x="123.799" y="0" font-size="14.898" textLength="6.776" lengthAdjust="spacingAndGlyphs" fill="#000000" font-weight="bold" stroke="#000000" stroke-width="0.18">t</text>
<text transform="translate(681.453 270.200) rotate(-90.0)" x="131.776" y="0" font-size="14.898" textLength="4.879" lengthAdjust="spacingAndGlyphs" fill="#000000" font-weight="bold" stroke="#000000" stroke-width="0.18">)</text>
</g>
</svg></body></html>
